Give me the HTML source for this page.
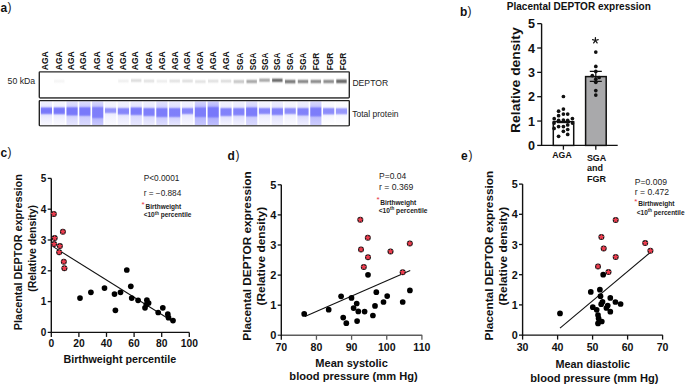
<!DOCTYPE html>
<html><head><meta charset="utf-8"><title>Figure</title>
<style>
html,body{margin:0;padding:0;background:#fff;}
body{width:685px;height:386px;overflow:hidden;font-family:"Liberation Sans", sans-serif;}
svg{display:block;font-family:"Liberation Sans", sans-serif;}
</style></head><body>
<svg width="685" height="386" viewBox="0 0 685 386">
<text transform="translate(47.60,70.20) rotate(-90)" font-size="9.2" font-weight="bold" fill="#111" text-anchor="start" textLength="18.90" lengthAdjust="spacingAndGlyphs">AGA</text>
<text transform="translate(61.70,70.20) rotate(-90)" font-size="9.2" font-weight="bold" fill="#111" text-anchor="start" textLength="18.90" lengthAdjust="spacingAndGlyphs">AGA</text>
<text transform="translate(74.00,70.20) rotate(-90)" font-size="9.2" font-weight="bold" fill="#111" text-anchor="start" textLength="18.90" lengthAdjust="spacingAndGlyphs">AGA</text>
<text transform="translate(85.80,70.20) rotate(-90)" font-size="9.2" font-weight="bold" fill="#111" text-anchor="start" textLength="18.90" lengthAdjust="spacingAndGlyphs">AGA</text>
<text transform="translate(99.50,70.20) rotate(-90)" font-size="9.2" font-weight="bold" fill="#111" text-anchor="start" textLength="18.90" lengthAdjust="spacingAndGlyphs">AGA</text>
<text transform="translate(113.10,70.20) rotate(-90)" font-size="9.2" font-weight="bold" fill="#111" text-anchor="start" textLength="18.90" lengthAdjust="spacingAndGlyphs">AGA</text>
<text transform="translate(125.70,70.20) rotate(-90)" font-size="9.2" font-weight="bold" fill="#111" text-anchor="start" textLength="18.90" lengthAdjust="spacingAndGlyphs">AGA</text>
<text transform="translate(138.40,70.20) rotate(-90)" font-size="9.2" font-weight="bold" fill="#111" text-anchor="start" textLength="18.90" lengthAdjust="spacingAndGlyphs">AGA</text>
<text transform="translate(151.80,70.20) rotate(-90)" font-size="9.2" font-weight="bold" fill="#111" text-anchor="start" textLength="18.90" lengthAdjust="spacingAndGlyphs">AGA</text>
<text transform="translate(165.00,70.20) rotate(-90)" font-size="9.2" font-weight="bold" fill="#111" text-anchor="start" textLength="18.90" lengthAdjust="spacingAndGlyphs">AGA</text>
<text transform="translate(177.80,70.20) rotate(-90)" font-size="9.2" font-weight="bold" fill="#111" text-anchor="start" textLength="18.90" lengthAdjust="spacingAndGlyphs">AGA</text>
<text transform="translate(189.50,70.20) rotate(-90)" font-size="9.2" font-weight="bold" fill="#111" text-anchor="start" textLength="18.90" lengthAdjust="spacingAndGlyphs">AGA</text>
<text transform="translate(202.70,70.20) rotate(-90)" font-size="9.2" font-weight="bold" fill="#111" text-anchor="start" textLength="18.90" lengthAdjust="spacingAndGlyphs">AGA</text>
<text transform="translate(215.50,70.20) rotate(-90)" font-size="9.2" font-weight="bold" fill="#111" text-anchor="start" textLength="18.90" lengthAdjust="spacingAndGlyphs">AGA</text>
<text transform="translate(228.90,70.20) rotate(-90)" font-size="9.2" font-weight="bold" fill="#111" text-anchor="start" textLength="18.90" lengthAdjust="spacingAndGlyphs">AGA</text>
<text transform="translate(242.80,70.20) rotate(-90)" font-size="9.2" font-weight="bold" fill="#111" text-anchor="start" textLength="17.50" lengthAdjust="spacingAndGlyphs">SGA</text>
<text transform="translate(255.90,70.20) rotate(-90)" font-size="9.2" font-weight="bold" fill="#111" text-anchor="start" textLength="17.50" lengthAdjust="spacingAndGlyphs">SGA</text>
<text transform="translate(268.10,70.20) rotate(-90)" font-size="9.2" font-weight="bold" fill="#111" text-anchor="start" textLength="17.50" lengthAdjust="spacingAndGlyphs">SGA</text>
<text transform="translate(279.90,70.20) rotate(-90)" font-size="9.2" font-weight="bold" fill="#111" text-anchor="start" textLength="17.50" lengthAdjust="spacingAndGlyphs">SGA</text>
<text transform="translate(293.30,70.20) rotate(-90)" font-size="9.2" font-weight="bold" fill="#111" text-anchor="start" textLength="17.50" lengthAdjust="spacingAndGlyphs">SGA</text>
<text transform="translate(306.30,70.20) rotate(-90)" font-size="9.2" font-weight="bold" fill="#111" text-anchor="start" textLength="17.50" lengthAdjust="spacingAndGlyphs">SGA</text>
<text transform="translate(318.60,70.20) rotate(-90)" font-size="9.2" font-weight="bold" fill="#111" text-anchor="start" textLength="17.50" lengthAdjust="spacingAndGlyphs">FGR</text>
<text transform="translate(332.60,70.20) rotate(-90)" font-size="9.2" font-weight="bold" fill="#111" text-anchor="start" textLength="17.50" lengthAdjust="spacingAndGlyphs">FGR</text>
<text transform="translate(346.10,70.20) rotate(-90)" font-size="9.2" font-weight="bold" fill="#111" text-anchor="start" textLength="17.50" lengthAdjust="spacingAndGlyphs">FGR</text>
<text x="7.60" y="83.70" font-size="8.8" font-weight="normal" fill="#222" text-anchor="start" textLength="27.60" lengthAdjust="spacingAndGlyphs" >50 kDa</text>
<text x="352.40" y="86.30" font-size="9.4" font-weight="normal" fill="#222" text-anchor="start" textLength="35.80" lengthAdjust="spacingAndGlyphs" >DEPTOR</text>
<text x="352.20" y="117.10" font-size="9.4" font-weight="normal" fill="#222" text-anchor="start" textLength="46.40" lengthAdjust="spacingAndGlyphs" >Total protein</text>
<rect x="39.3" y="71.9" width="310" height="25.8" fill="#fff" stroke="#2a2a2a" stroke-width="1.4" rx="0.6"/>
<defs>
<linearGradient id="dg2" x1="0" y1="0" x2="0" y2="1"><stop offset="0.0%" stop-color="rgb(244,244,244)" stop-opacity="0.001"/><stop offset="6.4%" stop-color="rgb(244,244,244)" stop-opacity="0.007"/><stop offset="12.8%" stop-color="rgb(244,244,244)" stop-opacity="0.030"/><stop offset="19.2%" stop-color="rgb(244,244,244)" stop-opacity="0.098"/><stop offset="25.6%" stop-color="rgb(244,244,244)" stop-opacity="0.240"/><stop offset="32.1%" stop-color="rgb(244,244,244)" stop-opacity="0.452"/><stop offset="38.5%" stop-color="rgb(244,244,244)" stop-opacity="0.676"/><stop offset="44.9%" stop-color="rgb(244,244,244)" stop-opacity="0.832"/><stop offset="51.3%" stop-color="rgb(244,244,244)" stop-opacity="0.871"/><stop offset="57.7%" stop-color="rgb(244,244,244)" stop-opacity="0.782"/><stop offset="64.1%" stop-color="rgb(244,244,244)" stop-opacity="0.591"/><stop offset="70.5%" stop-color="rgb(244,244,244)" stop-opacity="0.362"/><stop offset="76.9%" stop-color="rgb(244,244,244)" stop-opacity="0.173"/><stop offset="83.3%" stop-color="rgb(244,244,244)" stop-opacity="0.063"/><stop offset="89.7%" stop-color="rgb(244,244,244)" stop-opacity="0.017"/><stop offset="96.2%" stop-color="rgb(244,244,244)" stop-opacity="0.003"/></linearGradient>
<linearGradient id="dg7" x1="0" y1="0" x2="0" y2="1"><stop offset="0.0%" stop-color="rgb(238,238,238)" stop-opacity="0.001"/><stop offset="6.4%" stop-color="rgb(238,238,238)" stop-opacity="0.007"/><stop offset="12.8%" stop-color="rgb(238,238,238)" stop-opacity="0.030"/><stop offset="19.2%" stop-color="rgb(238,238,238)" stop-opacity="0.098"/><stop offset="25.6%" stop-color="rgb(238,238,238)" stop-opacity="0.240"/><stop offset="32.1%" stop-color="rgb(238,238,238)" stop-opacity="0.452"/><stop offset="38.5%" stop-color="rgb(238,238,238)" stop-opacity="0.676"/><stop offset="44.9%" stop-color="rgb(238,238,238)" stop-opacity="0.832"/><stop offset="51.3%" stop-color="rgb(238,238,238)" stop-opacity="0.871"/><stop offset="57.7%" stop-color="rgb(238,238,238)" stop-opacity="0.782"/><stop offset="64.1%" stop-color="rgb(238,238,238)" stop-opacity="0.591"/><stop offset="70.5%" stop-color="rgb(238,238,238)" stop-opacity="0.362"/><stop offset="76.9%" stop-color="rgb(238,238,238)" stop-opacity="0.173"/><stop offset="83.3%" stop-color="rgb(238,238,238)" stop-opacity="0.063"/><stop offset="89.7%" stop-color="rgb(238,238,238)" stop-opacity="0.017"/><stop offset="96.2%" stop-color="rgb(238,238,238)" stop-opacity="0.003"/></linearGradient>
<linearGradient id="dg8" x1="0" y1="0" x2="0" y2="1"><stop offset="0.0%" stop-color="rgb(220,220,220)" stop-opacity="0.001"/><stop offset="6.2%" stop-color="rgb(220,220,220)" stop-opacity="0.007"/><stop offset="12.5%" stop-color="rgb(220,220,220)" stop-opacity="0.030"/><stop offset="18.8%" stop-color="rgb(220,220,220)" stop-opacity="0.098"/><stop offset="25.0%" stop-color="rgb(220,220,220)" stop-opacity="0.240"/><stop offset="31.2%" stop-color="rgb(220,220,220)" stop-opacity="0.453"/><stop offset="37.5%" stop-color="rgb(220,220,220)" stop-opacity="0.679"/><stop offset="43.8%" stop-color="rgb(220,220,220)" stop-opacity="0.842"/><stop offset="50.0%" stop-color="rgb(220,220,220)" stop-opacity="0.900"/><stop offset="56.2%" stop-color="rgb(220,220,220)" stop-opacity="0.842"/><stop offset="62.5%" stop-color="rgb(220,220,220)" stop-opacity="0.679"/><stop offset="68.8%" stop-color="rgb(220,220,220)" stop-opacity="0.453"/><stop offset="75.0%" stop-color="rgb(220,220,220)" stop-opacity="0.240"/><stop offset="81.2%" stop-color="rgb(220,220,220)" stop-opacity="0.098"/><stop offset="87.5%" stop-color="rgb(220,220,220)" stop-opacity="0.030"/><stop offset="93.8%" stop-color="rgb(220,220,220)" stop-opacity="0.007"/><stop offset="100.0%" stop-color="rgb(220,220,220)" stop-opacity="0.001"/></linearGradient>
<linearGradient id="dg9" x1="0" y1="0" x2="0" y2="1"><stop offset="0.0%" stop-color="rgb(226,226,226)" stop-opacity="0.001"/><stop offset="6.2%" stop-color="rgb(226,226,226)" stop-opacity="0.007"/><stop offset="12.5%" stop-color="rgb(226,226,226)" stop-opacity="0.030"/><stop offset="18.8%" stop-color="rgb(226,226,226)" stop-opacity="0.098"/><stop offset="25.0%" stop-color="rgb(226,226,226)" stop-opacity="0.240"/><stop offset="31.2%" stop-color="rgb(226,226,226)" stop-opacity="0.453"/><stop offset="37.5%" stop-color="rgb(226,226,226)" stop-opacity="0.679"/><stop offset="43.8%" stop-color="rgb(226,226,226)" stop-opacity="0.842"/><stop offset="50.0%" stop-color="rgb(226,226,226)" stop-opacity="0.900"/><stop offset="56.2%" stop-color="rgb(226,226,226)" stop-opacity="0.842"/><stop offset="62.5%" stop-color="rgb(226,226,226)" stop-opacity="0.679"/><stop offset="68.8%" stop-color="rgb(226,226,226)" stop-opacity="0.453"/><stop offset="75.0%" stop-color="rgb(226,226,226)" stop-opacity="0.240"/><stop offset="81.2%" stop-color="rgb(226,226,226)" stop-opacity="0.098"/><stop offset="87.5%" stop-color="rgb(226,226,226)" stop-opacity="0.030"/><stop offset="93.8%" stop-color="rgb(226,226,226)" stop-opacity="0.007"/><stop offset="100.0%" stop-color="rgb(226,226,226)" stop-opacity="0.001"/></linearGradient>
<linearGradient id="dg10" x1="0" y1="0" x2="0" y2="1"><stop offset="0.0%" stop-color="rgb(236,236,236)" stop-opacity="0.001"/><stop offset="6.4%" stop-color="rgb(236,236,236)" stop-opacity="0.007"/><stop offset="12.8%" stop-color="rgb(236,236,236)" stop-opacity="0.030"/><stop offset="19.2%" stop-color="rgb(236,236,236)" stop-opacity="0.098"/><stop offset="25.6%" stop-color="rgb(236,236,236)" stop-opacity="0.240"/><stop offset="32.1%" stop-color="rgb(236,236,236)" stop-opacity="0.452"/><stop offset="38.5%" stop-color="rgb(236,236,236)" stop-opacity="0.676"/><stop offset="44.9%" stop-color="rgb(236,236,236)" stop-opacity="0.832"/><stop offset="51.3%" stop-color="rgb(236,236,236)" stop-opacity="0.871"/><stop offset="57.7%" stop-color="rgb(236,236,236)" stop-opacity="0.782"/><stop offset="64.1%" stop-color="rgb(236,236,236)" stop-opacity="0.591"/><stop offset="70.5%" stop-color="rgb(236,236,236)" stop-opacity="0.362"/><stop offset="76.9%" stop-color="rgb(236,236,236)" stop-opacity="0.173"/><stop offset="83.3%" stop-color="rgb(236,236,236)" stop-opacity="0.063"/><stop offset="89.7%" stop-color="rgb(236,236,236)" stop-opacity="0.017"/><stop offset="96.2%" stop-color="rgb(236,236,236)" stop-opacity="0.003"/></linearGradient>
<linearGradient id="dg11" x1="0" y1="0" x2="0" y2="1"><stop offset="0.0%" stop-color="rgb(226,226,226)" stop-opacity="0.001"/><stop offset="6.2%" stop-color="rgb(226,226,226)" stop-opacity="0.007"/><stop offset="12.5%" stop-color="rgb(226,226,226)" stop-opacity="0.030"/><stop offset="18.8%" stop-color="rgb(226,226,226)" stop-opacity="0.098"/><stop offset="25.0%" stop-color="rgb(226,226,226)" stop-opacity="0.240"/><stop offset="31.2%" stop-color="rgb(226,226,226)" stop-opacity="0.453"/><stop offset="37.5%" stop-color="rgb(226,226,226)" stop-opacity="0.679"/><stop offset="43.8%" stop-color="rgb(226,226,226)" stop-opacity="0.842"/><stop offset="50.0%" stop-color="rgb(226,226,226)" stop-opacity="0.900"/><stop offset="56.2%" stop-color="rgb(226,226,226)" stop-opacity="0.842"/><stop offset="62.5%" stop-color="rgb(226,226,226)" stop-opacity="0.679"/><stop offset="68.8%" stop-color="rgb(226,226,226)" stop-opacity="0.453"/><stop offset="75.0%" stop-color="rgb(226,226,226)" stop-opacity="0.240"/><stop offset="81.2%" stop-color="rgb(226,226,226)" stop-opacity="0.098"/><stop offset="87.5%" stop-color="rgb(226,226,226)" stop-opacity="0.030"/><stop offset="93.8%" stop-color="rgb(226,226,226)" stop-opacity="0.007"/><stop offset="100.0%" stop-color="rgb(226,226,226)" stop-opacity="0.001"/></linearGradient>
<linearGradient id="dg12" x1="0" y1="0" x2="0" y2="1"><stop offset="0.0%" stop-color="rgb(222,222,222)" stop-opacity="0.001"/><stop offset="6.2%" stop-color="rgb(222,222,222)" stop-opacity="0.007"/><stop offset="12.5%" stop-color="rgb(222,222,222)" stop-opacity="0.030"/><stop offset="18.8%" stop-color="rgb(222,222,222)" stop-opacity="0.098"/><stop offset="25.0%" stop-color="rgb(222,222,222)" stop-opacity="0.240"/><stop offset="31.2%" stop-color="rgb(222,222,222)" stop-opacity="0.453"/><stop offset="37.5%" stop-color="rgb(222,222,222)" stop-opacity="0.679"/><stop offset="43.8%" stop-color="rgb(222,222,222)" stop-opacity="0.842"/><stop offset="50.0%" stop-color="rgb(222,222,222)" stop-opacity="0.900"/><stop offset="56.2%" stop-color="rgb(222,222,222)" stop-opacity="0.842"/><stop offset="62.5%" stop-color="rgb(222,222,222)" stop-opacity="0.679"/><stop offset="68.8%" stop-color="rgb(222,222,222)" stop-opacity="0.453"/><stop offset="75.0%" stop-color="rgb(222,222,222)" stop-opacity="0.240"/><stop offset="81.2%" stop-color="rgb(222,222,222)" stop-opacity="0.098"/><stop offset="87.5%" stop-color="rgb(222,222,222)" stop-opacity="0.030"/><stop offset="93.8%" stop-color="rgb(222,222,222)" stop-opacity="0.007"/><stop offset="100.0%" stop-color="rgb(222,222,222)" stop-opacity="0.001"/></linearGradient>
<linearGradient id="dg13" x1="0" y1="0" x2="0" y2="1"><stop offset="0.0%" stop-color="rgb(226,226,226)" stop-opacity="0.001"/><stop offset="6.2%" stop-color="rgb(226,226,226)" stop-opacity="0.007"/><stop offset="12.5%" stop-color="rgb(226,226,226)" stop-opacity="0.030"/><stop offset="18.8%" stop-color="rgb(226,226,226)" stop-opacity="0.098"/><stop offset="25.0%" stop-color="rgb(226,226,226)" stop-opacity="0.240"/><stop offset="31.2%" stop-color="rgb(226,226,226)" stop-opacity="0.453"/><stop offset="37.5%" stop-color="rgb(226,226,226)" stop-opacity="0.679"/><stop offset="43.8%" stop-color="rgb(226,226,226)" stop-opacity="0.842"/><stop offset="50.0%" stop-color="rgb(226,226,226)" stop-opacity="0.900"/><stop offset="56.2%" stop-color="rgb(226,226,226)" stop-opacity="0.842"/><stop offset="62.5%" stop-color="rgb(226,226,226)" stop-opacity="0.679"/><stop offset="68.8%" stop-color="rgb(226,226,226)" stop-opacity="0.453"/><stop offset="75.0%" stop-color="rgb(226,226,226)" stop-opacity="0.240"/><stop offset="81.2%" stop-color="rgb(226,226,226)" stop-opacity="0.098"/><stop offset="87.5%" stop-color="rgb(226,226,226)" stop-opacity="0.030"/><stop offset="93.8%" stop-color="rgb(226,226,226)" stop-opacity="0.007"/><stop offset="100.0%" stop-color="rgb(226,226,226)" stop-opacity="0.001"/></linearGradient>
<linearGradient id="dg14" x1="0" y1="0" x2="0" y2="1"><stop offset="0.0%" stop-color="rgb(224,224,224)" stop-opacity="0.001"/><stop offset="6.2%" stop-color="rgb(224,224,224)" stop-opacity="0.007"/><stop offset="12.5%" stop-color="rgb(224,224,224)" stop-opacity="0.030"/><stop offset="18.8%" stop-color="rgb(224,224,224)" stop-opacity="0.098"/><stop offset="25.0%" stop-color="rgb(224,224,224)" stop-opacity="0.240"/><stop offset="31.2%" stop-color="rgb(224,224,224)" stop-opacity="0.453"/><stop offset="37.5%" stop-color="rgb(224,224,224)" stop-opacity="0.679"/><stop offset="43.8%" stop-color="rgb(224,224,224)" stop-opacity="0.842"/><stop offset="50.0%" stop-color="rgb(224,224,224)" stop-opacity="0.900"/><stop offset="56.2%" stop-color="rgb(224,224,224)" stop-opacity="0.842"/><stop offset="62.5%" stop-color="rgb(224,224,224)" stop-opacity="0.679"/><stop offset="68.8%" stop-color="rgb(224,224,224)" stop-opacity="0.453"/><stop offset="75.0%" stop-color="rgb(224,224,224)" stop-opacity="0.240"/><stop offset="81.2%" stop-color="rgb(224,224,224)" stop-opacity="0.098"/><stop offset="87.5%" stop-color="rgb(224,224,224)" stop-opacity="0.030"/><stop offset="93.8%" stop-color="rgb(224,224,224)" stop-opacity="0.007"/><stop offset="100.0%" stop-color="rgb(224,224,224)" stop-opacity="0.001"/></linearGradient>
<linearGradient id="dg15" x1="0" y1="0" x2="0" y2="1"><stop offset="0.0%" stop-color="rgb(220,220,220)" stop-opacity="0.001"/><stop offset="6.2%" stop-color="rgb(220,220,220)" stop-opacity="0.007"/><stop offset="12.5%" stop-color="rgb(220,220,220)" stop-opacity="0.030"/><stop offset="18.8%" stop-color="rgb(220,220,220)" stop-opacity="0.098"/><stop offset="25.0%" stop-color="rgb(220,220,220)" stop-opacity="0.240"/><stop offset="31.2%" stop-color="rgb(220,220,220)" stop-opacity="0.453"/><stop offset="37.5%" stop-color="rgb(220,220,220)" stop-opacity="0.679"/><stop offset="43.8%" stop-color="rgb(220,220,220)" stop-opacity="0.842"/><stop offset="50.0%" stop-color="rgb(220,220,220)" stop-opacity="0.900"/><stop offset="56.2%" stop-color="rgb(220,220,220)" stop-opacity="0.842"/><stop offset="62.5%" stop-color="rgb(220,220,220)" stop-opacity="0.679"/><stop offset="68.8%" stop-color="rgb(220,220,220)" stop-opacity="0.453"/><stop offset="75.0%" stop-color="rgb(220,220,220)" stop-opacity="0.240"/><stop offset="81.2%" stop-color="rgb(220,220,220)" stop-opacity="0.098"/><stop offset="87.5%" stop-color="rgb(220,220,220)" stop-opacity="0.030"/><stop offset="93.8%" stop-color="rgb(220,220,220)" stop-opacity="0.007"/><stop offset="100.0%" stop-color="rgb(220,220,220)" stop-opacity="0.001"/></linearGradient>
<linearGradient id="dg16" x1="0" y1="0" x2="0" y2="1"><stop offset="0.0%" stop-color="rgb(200,200,200)" stop-opacity="0.001"/><stop offset="6.0%" stop-color="rgb(200,200,200)" stop-opacity="0.007"/><stop offset="11.9%" stop-color="rgb(200,200,200)" stop-opacity="0.030"/><stop offset="17.9%" stop-color="rgb(200,200,200)" stop-opacity="0.098"/><stop offset="23.8%" stop-color="rgb(200,200,200)" stop-opacity="0.240"/><stop offset="29.8%" stop-color="rgb(200,200,200)" stop-opacity="0.453"/><stop offset="35.7%" stop-color="rgb(200,200,200)" stop-opacity="0.681"/><stop offset="41.7%" stop-color="rgb(200,200,200)" stop-opacity="0.852"/><stop offset="47.6%" stop-color="rgb(200,200,200)" stop-opacity="0.933"/><stop offset="53.6%" stop-color="rgb(200,200,200)" stop-opacity="0.924"/><stop offset="59.5%" stop-color="rgb(200,200,200)" stop-opacity="0.824"/><stop offset="65.5%" stop-color="rgb(200,200,200)" stop-opacity="0.638"/><stop offset="71.4%" stop-color="rgb(200,200,200)" stop-opacity="0.407"/><stop offset="77.4%" stop-color="rgb(200,200,200)" stop-opacity="0.205"/><stop offset="83.3%" stop-color="rgb(200,200,200)" stop-opacity="0.079"/><stop offset="89.3%" stop-color="rgb(200,200,200)" stop-opacity="0.023"/><stop offset="95.2%" stop-color="rgb(200,200,200)" stop-opacity="0.005"/></linearGradient>
<linearGradient id="dg17" x1="0" y1="0" x2="0" y2="1"><stop offset="0.0%" stop-color="rgb(165,165,165)" stop-opacity="0.001"/><stop offset="6.0%" stop-color="rgb(165,165,165)" stop-opacity="0.007"/><stop offset="11.9%" stop-color="rgb(165,165,165)" stop-opacity="0.030"/><stop offset="17.9%" stop-color="rgb(165,165,165)" stop-opacity="0.098"/><stop offset="23.8%" stop-color="rgb(165,165,165)" stop-opacity="0.240"/><stop offset="29.8%" stop-color="rgb(165,165,165)" stop-opacity="0.453"/><stop offset="35.7%" stop-color="rgb(165,165,165)" stop-opacity="0.681"/><stop offset="41.7%" stop-color="rgb(165,165,165)" stop-opacity="0.852"/><stop offset="47.6%" stop-color="rgb(165,165,165)" stop-opacity="0.933"/><stop offset="53.6%" stop-color="rgb(165,165,165)" stop-opacity="0.924"/><stop offset="59.5%" stop-color="rgb(165,165,165)" stop-opacity="0.824"/><stop offset="65.5%" stop-color="rgb(165,165,165)" stop-opacity="0.638"/><stop offset="71.4%" stop-color="rgb(165,165,165)" stop-opacity="0.407"/><stop offset="77.4%" stop-color="rgb(165,165,165)" stop-opacity="0.205"/><stop offset="83.3%" stop-color="rgb(165,165,165)" stop-opacity="0.079"/><stop offset="89.3%" stop-color="rgb(165,165,165)" stop-opacity="0.023"/><stop offset="95.2%" stop-color="rgb(165,165,165)" stop-opacity="0.005"/></linearGradient>
<linearGradient id="dg18" x1="0" y1="0" x2="0" y2="1"><stop offset="0.0%" stop-color="rgb(168,168,168)" stop-opacity="0.001"/><stop offset="6.0%" stop-color="rgb(168,168,168)" stop-opacity="0.007"/><stop offset="11.9%" stop-color="rgb(168,168,168)" stop-opacity="0.030"/><stop offset="17.9%" stop-color="rgb(168,168,168)" stop-opacity="0.098"/><stop offset="23.8%" stop-color="rgb(168,168,168)" stop-opacity="0.240"/><stop offset="29.8%" stop-color="rgb(168,168,168)" stop-opacity="0.453"/><stop offset="35.7%" stop-color="rgb(168,168,168)" stop-opacity="0.681"/><stop offset="41.7%" stop-color="rgb(168,168,168)" stop-opacity="0.852"/><stop offset="47.6%" stop-color="rgb(168,168,168)" stop-opacity="0.933"/><stop offset="53.6%" stop-color="rgb(168,168,168)" stop-opacity="0.924"/><stop offset="59.5%" stop-color="rgb(168,168,168)" stop-opacity="0.824"/><stop offset="65.5%" stop-color="rgb(168,168,168)" stop-opacity="0.638"/><stop offset="71.4%" stop-color="rgb(168,168,168)" stop-opacity="0.407"/><stop offset="77.4%" stop-color="rgb(168,168,168)" stop-opacity="0.205"/><stop offset="83.3%" stop-color="rgb(168,168,168)" stop-opacity="0.079"/><stop offset="89.3%" stop-color="rgb(168,168,168)" stop-opacity="0.023"/><stop offset="95.2%" stop-color="rgb(168,168,168)" stop-opacity="0.005"/></linearGradient>
<linearGradient id="dg19" x1="0" y1="0" x2="0" y2="1"><stop offset="0.0%" stop-color="rgb(100,100,100)" stop-opacity="0.001"/><stop offset="6.0%" stop-color="rgb(100,100,100)" stop-opacity="0.007"/><stop offset="11.9%" stop-color="rgb(100,100,100)" stop-opacity="0.030"/><stop offset="17.9%" stop-color="rgb(100,100,100)" stop-opacity="0.098"/><stop offset="23.8%" stop-color="rgb(100,100,100)" stop-opacity="0.240"/><stop offset="29.8%" stop-color="rgb(100,100,100)" stop-opacity="0.453"/><stop offset="35.7%" stop-color="rgb(100,100,100)" stop-opacity="0.681"/><stop offset="41.7%" stop-color="rgb(100,100,100)" stop-opacity="0.852"/><stop offset="47.6%" stop-color="rgb(100,100,100)" stop-opacity="0.933"/><stop offset="53.6%" stop-color="rgb(100,100,100)" stop-opacity="0.924"/><stop offset="59.5%" stop-color="rgb(100,100,100)" stop-opacity="0.824"/><stop offset="65.5%" stop-color="rgb(100,100,100)" stop-opacity="0.638"/><stop offset="71.4%" stop-color="rgb(100,100,100)" stop-opacity="0.407"/><stop offset="77.4%" stop-color="rgb(100,100,100)" stop-opacity="0.205"/><stop offset="83.3%" stop-color="rgb(100,100,100)" stop-opacity="0.079"/><stop offset="89.3%" stop-color="rgb(100,100,100)" stop-opacity="0.023"/><stop offset="95.2%" stop-color="rgb(100,100,100)" stop-opacity="0.005"/></linearGradient>
<linearGradient id="dg20" x1="0" y1="0" x2="0" y2="1"><stop offset="0.0%" stop-color="rgb(120,120,120)" stop-opacity="0.001"/><stop offset="5.8%" stop-color="rgb(120,120,120)" stop-opacity="0.007"/><stop offset="11.6%" stop-color="rgb(120,120,120)" stop-opacity="0.030"/><stop offset="17.4%" stop-color="rgb(120,120,120)" stop-opacity="0.098"/><stop offset="23.3%" stop-color="rgb(120,120,120)" stop-opacity="0.240"/><stop offset="29.1%" stop-color="rgb(120,120,120)" stop-opacity="0.453"/><stop offset="34.9%" stop-color="rgb(120,120,120)" stop-opacity="0.681"/><stop offset="40.7%" stop-color="rgb(120,120,120)" stop-opacity="0.854"/><stop offset="46.5%" stop-color="rgb(120,120,120)" stop-opacity="0.941"/><stop offset="52.3%" stop-color="rgb(120,120,120)" stop-opacity="0.948"/><stop offset="58.1%" stop-color="rgb(120,120,120)" stop-opacity="0.878"/><stop offset="64.0%" stop-color="rgb(120,120,120)" stop-opacity="0.721"/><stop offset="69.8%" stop-color="rgb(120,120,120)" stop-opacity="0.500"/><stop offset="75.6%" stop-color="rgb(120,120,120)" stop-opacity="0.278"/><stop offset="81.4%" stop-color="rgb(120,120,120)" stop-opacity="0.120"/><stop offset="87.2%" stop-color="rgb(120,120,120)" stop-opacity="0.039"/><stop offset="93.0%" stop-color="rgb(120,120,120)" stop-opacity="0.009"/><stop offset="98.8%" stop-color="rgb(120,120,120)" stop-opacity="0.002"/></linearGradient>
<linearGradient id="dg21" x1="0" y1="0" x2="0" y2="1"><stop offset="0.0%" stop-color="rgb(132,132,132)" stop-opacity="0.001"/><stop offset="6.0%" stop-color="rgb(132,132,132)" stop-opacity="0.007"/><stop offset="11.9%" stop-color="rgb(132,132,132)" stop-opacity="0.030"/><stop offset="17.9%" stop-color="rgb(132,132,132)" stop-opacity="0.098"/><stop offset="23.8%" stop-color="rgb(132,132,132)" stop-opacity="0.240"/><stop offset="29.8%" stop-color="rgb(132,132,132)" stop-opacity="0.453"/><stop offset="35.7%" stop-color="rgb(132,132,132)" stop-opacity="0.681"/><stop offset="41.7%" stop-color="rgb(132,132,132)" stop-opacity="0.852"/><stop offset="47.6%" stop-color="rgb(132,132,132)" stop-opacity="0.933"/><stop offset="53.6%" stop-color="rgb(132,132,132)" stop-opacity="0.924"/><stop offset="59.5%" stop-color="rgb(132,132,132)" stop-opacity="0.824"/><stop offset="65.5%" stop-color="rgb(132,132,132)" stop-opacity="0.638"/><stop offset="71.4%" stop-color="rgb(132,132,132)" stop-opacity="0.407"/><stop offset="77.4%" stop-color="rgb(132,132,132)" stop-opacity="0.205"/><stop offset="83.3%" stop-color="rgb(132,132,132)" stop-opacity="0.079"/><stop offset="89.3%" stop-color="rgb(132,132,132)" stop-opacity="0.023"/><stop offset="95.2%" stop-color="rgb(132,132,132)" stop-opacity="0.005"/></linearGradient>
<linearGradient id="dg22" x1="0" y1="0" x2="0" y2="1"><stop offset="0.0%" stop-color="rgb(136,136,136)" stop-opacity="0.001"/><stop offset="6.0%" stop-color="rgb(136,136,136)" stop-opacity="0.007"/><stop offset="11.9%" stop-color="rgb(136,136,136)" stop-opacity="0.030"/><stop offset="17.9%" stop-color="rgb(136,136,136)" stop-opacity="0.098"/><stop offset="23.8%" stop-color="rgb(136,136,136)" stop-opacity="0.240"/><stop offset="29.8%" stop-color="rgb(136,136,136)" stop-opacity="0.453"/><stop offset="35.7%" stop-color="rgb(136,136,136)" stop-opacity="0.681"/><stop offset="41.7%" stop-color="rgb(136,136,136)" stop-opacity="0.852"/><stop offset="47.6%" stop-color="rgb(136,136,136)" stop-opacity="0.933"/><stop offset="53.6%" stop-color="rgb(136,136,136)" stop-opacity="0.924"/><stop offset="59.5%" stop-color="rgb(136,136,136)" stop-opacity="0.824"/><stop offset="65.5%" stop-color="rgb(136,136,136)" stop-opacity="0.638"/><stop offset="71.4%" stop-color="rgb(136,136,136)" stop-opacity="0.407"/><stop offset="77.4%" stop-color="rgb(136,136,136)" stop-opacity="0.205"/><stop offset="83.3%" stop-color="rgb(136,136,136)" stop-opacity="0.079"/><stop offset="89.3%" stop-color="rgb(136,136,136)" stop-opacity="0.023"/><stop offset="95.2%" stop-color="rgb(136,136,136)" stop-opacity="0.005"/></linearGradient>
<linearGradient id="dg23" x1="0" y1="0" x2="0" y2="1"><stop offset="0.0%" stop-color="rgb(136,136,136)" stop-opacity="0.001"/><stop offset="6.0%" stop-color="rgb(136,136,136)" stop-opacity="0.007"/><stop offset="11.9%" stop-color="rgb(136,136,136)" stop-opacity="0.030"/><stop offset="17.9%" stop-color="rgb(136,136,136)" stop-opacity="0.098"/><stop offset="23.8%" stop-color="rgb(136,136,136)" stop-opacity="0.240"/><stop offset="29.8%" stop-color="rgb(136,136,136)" stop-opacity="0.453"/><stop offset="35.7%" stop-color="rgb(136,136,136)" stop-opacity="0.681"/><stop offset="41.7%" stop-color="rgb(136,136,136)" stop-opacity="0.852"/><stop offset="47.6%" stop-color="rgb(136,136,136)" stop-opacity="0.933"/><stop offset="53.6%" stop-color="rgb(136,136,136)" stop-opacity="0.924"/><stop offset="59.5%" stop-color="rgb(136,136,136)" stop-opacity="0.824"/><stop offset="65.5%" stop-color="rgb(136,136,136)" stop-opacity="0.638"/><stop offset="71.4%" stop-color="rgb(136,136,136)" stop-opacity="0.407"/><stop offset="77.4%" stop-color="rgb(136,136,136)" stop-opacity="0.205"/><stop offset="83.3%" stop-color="rgb(136,136,136)" stop-opacity="0.079"/><stop offset="89.3%" stop-color="rgb(136,136,136)" stop-opacity="0.023"/><stop offset="95.2%" stop-color="rgb(136,136,136)" stop-opacity="0.005"/></linearGradient>
<linearGradient id="dg24" x1="0" y1="0" x2="0" y2="1"><stop offset="0.0%" stop-color="rgb(102,102,102)" stop-opacity="0.001"/><stop offset="5.7%" stop-color="rgb(102,102,102)" stop-opacity="0.007"/><stop offset="11.4%" stop-color="rgb(102,102,102)" stop-opacity="0.030"/><stop offset="17.0%" stop-color="rgb(102,102,102)" stop-opacity="0.098"/><stop offset="22.7%" stop-color="rgb(102,102,102)" stop-opacity="0.240"/><stop offset="28.4%" stop-color="rgb(102,102,102)" stop-opacity="0.453"/><stop offset="34.1%" stop-color="rgb(102,102,102)" stop-opacity="0.681"/><stop offset="39.8%" stop-color="rgb(102,102,102)" stop-opacity="0.854"/><stop offset="45.5%" stop-color="rgb(102,102,102)" stop-opacity="0.945"/><stop offset="51.1%" stop-color="rgb(102,102,102)" stop-opacity="0.965"/><stop offset="56.8%" stop-color="rgb(102,102,102)" stop-opacity="0.919"/><stop offset="62.5%" stop-color="rgb(102,102,102)" stop-opacity="0.795"/><stop offset="68.2%" stop-color="rgb(102,102,102)" stop-opacity="0.593"/><stop offset="73.9%" stop-color="rgb(102,102,102)" stop-opacity="0.362"/><stop offset="79.5%" stop-color="rgb(102,102,102)" stop-opacity="0.173"/><stop offset="85.2%" stop-color="rgb(102,102,102)" stop-opacity="0.063"/><stop offset="90.9%" stop-color="rgb(102,102,102)" stop-opacity="0.017"/><stop offset="96.6%" stop-color="rgb(102,102,102)" stop-opacity="0.003"/></linearGradient>
</defs>
<rect x="54.03" y="77.30" width="10.40" height="7.80" fill="url(#dg2)"/>
<rect x="118.18" y="77.10" width="10.40" height="7.80" fill="url(#dg7)"/>
<rect x="131.01" y="76.50" width="10.40" height="8.00" fill="url(#dg8)"/>
<rect x="143.84" y="77.00" width="10.40" height="8.00" fill="url(#dg9)"/>
<rect x="156.67" y="77.30" width="10.40" height="7.80" fill="url(#dg10)"/>
<rect x="169.50" y="77.00" width="10.40" height="8.00" fill="url(#dg11)"/>
<rect x="182.33" y="77.00" width="10.40" height="8.00" fill="url(#dg12)"/>
<rect x="195.16" y="77.60" width="10.40" height="8.00" fill="url(#dg13)"/>
<rect x="207.99" y="77.10" width="10.40" height="8.00" fill="url(#dg14)"/>
<rect x="220.82" y="77.10" width="10.40" height="8.00" fill="url(#dg15)"/>
<rect x="233.65" y="77.40" width="10.40" height="8.40" fill="url(#dg16)"/>
<rect x="246.48" y="77.30" width="10.40" height="8.40" fill="url(#dg17)"/>
<rect x="259.31" y="76.00" width="10.40" height="8.40" fill="url(#dg18)"/>
<rect x="272.14" y="76.10" width="10.40" height="8.40" fill="url(#dg19)"/>
<rect x="284.97" y="77.30" width="10.40" height="8.60" fill="url(#dg20)"/>
<rect x="297.80" y="77.30" width="10.40" height="8.40" fill="url(#dg21)"/>
<rect x="310.63" y="77.30" width="10.40" height="8.40" fill="url(#dg22)"/>
<rect x="323.46" y="77.30" width="10.40" height="8.40" fill="url(#dg23)"/>
<rect x="336.29" y="76.90" width="10.40" height="8.80" fill="url(#dg24)"/>
<rect x="39.3" y="100.65" width="310" height="25.0" fill="#fff"/>
<defs>
<linearGradient id="pg0" x1="0" y1="0" x2="0" y2="1"><stop offset="0.0%" stop-color="rgb(120, 120, 250)" stop-opacity="0.111"/><stop offset="4.2%" stop-color="rgb(120, 120, 250)" stop-opacity="0.120"/><stop offset="8.4%" stop-color="rgb(120, 120, 250)" stop-opacity="0.132"/><stop offset="12.7%" stop-color="rgb(120, 120, 250)" stop-opacity="0.143"/><stop offset="16.9%" stop-color="rgb(120, 120, 250)" stop-opacity="0.156"/><stop offset="21.1%" stop-color="rgb(120, 120, 250)" stop-opacity="0.214"/><stop offset="25.3%" stop-color="rgb(120, 120, 250)" stop-opacity="0.539"/><stop offset="29.5%" stop-color="rgb(120, 120, 250)" stop-opacity="0.919"/><stop offset="33.8%" stop-color="rgb(120, 120, 250)" stop-opacity="0.997"/><stop offset="38.0%" stop-color="rgb(120, 120, 250)" stop-opacity="1.000"/><stop offset="42.2%" stop-color="rgb(120, 120, 250)" stop-opacity="1.000"/><stop offset="46.4%" stop-color="rgb(120, 120, 250)" stop-opacity="0.994"/><stop offset="50.6%" stop-color="rgb(120, 120, 250)" stop-opacity="0.876"/><stop offset="54.9%" stop-color="rgb(120, 120, 250)" stop-opacity="0.472"/><stop offset="59.1%" stop-color="rgb(120, 120, 250)" stop-opacity="0.218"/><stop offset="63.3%" stop-color="rgb(120, 120, 250)" stop-opacity="0.174"/><stop offset="67.5%" stop-color="rgb(120, 120, 250)" stop-opacity="0.152"/><stop offset="71.7%" stop-color="rgb(120, 120, 250)" stop-opacity="0.134"/><stop offset="75.9%" stop-color="rgb(120, 120, 250)" stop-opacity="0.120"/><stop offset="80.2%" stop-color="rgb(120, 120, 250)" stop-opacity="0.108"/><stop offset="84.4%" stop-color="rgb(120, 120, 250)" stop-opacity="0.096"/><stop offset="88.6%" stop-color="rgb(120, 120, 250)" stop-opacity="0.083"/><stop offset="92.8%" stop-color="rgb(120, 120, 250)" stop-opacity="0.071"/><stop offset="97.0%" stop-color="rgb(120, 120, 250)" stop-opacity="0.059"/></linearGradient>
<linearGradient id="pg1" x1="0" y1="0" x2="0" y2="1"><stop offset="0.0%" stop-color="rgb(120, 120, 250)" stop-opacity="0.074"/><stop offset="4.2%" stop-color="rgb(120, 120, 250)" stop-opacity="0.080"/><stop offset="8.4%" stop-color="rgb(120, 120, 250)" stop-opacity="0.088"/><stop offset="12.7%" stop-color="rgb(120, 120, 250)" stop-opacity="0.096"/><stop offset="16.9%" stop-color="rgb(120, 120, 250)" stop-opacity="0.104"/><stop offset="21.1%" stop-color="rgb(120, 120, 250)" stop-opacity="0.162"/><stop offset="25.3%" stop-color="rgb(120, 120, 250)" stop-opacity="0.507"/><stop offset="29.5%" stop-color="rgb(120, 120, 250)" stop-opacity="0.913"/><stop offset="33.8%" stop-color="rgb(120, 120, 250)" stop-opacity="0.997"/><stop offset="38.0%" stop-color="rgb(120, 120, 250)" stop-opacity="1.000"/><stop offset="42.2%" stop-color="rgb(120, 120, 250)" stop-opacity="1.000"/><stop offset="46.4%" stop-color="rgb(120, 120, 250)" stop-opacity="0.997"/><stop offset="50.6%" stop-color="rgb(120, 120, 250)" stop-opacity="0.919"/><stop offset="54.9%" stop-color="rgb(120, 120, 250)" stop-opacity="0.538"/><stop offset="59.1%" stop-color="rgb(120, 120, 250)" stop-opacity="0.209"/><stop offset="63.3%" stop-color="rgb(120, 120, 250)" stop-opacity="0.146"/><stop offset="67.5%" stop-color="rgb(120, 120, 250)" stop-opacity="0.128"/><stop offset="71.7%" stop-color="rgb(120, 120, 250)" stop-opacity="0.112"/><stop offset="75.9%" stop-color="rgb(120, 120, 250)" stop-opacity="0.100"/><stop offset="80.2%" stop-color="rgb(120, 120, 250)" stop-opacity="0.089"/><stop offset="84.4%" stop-color="rgb(120, 120, 250)" stop-opacity="0.079"/><stop offset="88.6%" stop-color="rgb(120, 120, 250)" stop-opacity="0.068"/><stop offset="92.8%" stop-color="rgb(120, 120, 250)" stop-opacity="0.058"/><stop offset="97.0%" stop-color="rgb(120, 120, 250)" stop-opacity="0.048"/></linearGradient>
<linearGradient id="pg2" x1="0" y1="0" x2="0" y2="1"><stop offset="0.0%" stop-color="rgb(120, 120, 250)" stop-opacity="0.217"/><stop offset="4.2%" stop-color="rgb(120, 120, 250)" stop-opacity="0.234"/><stop offset="8.4%" stop-color="rgb(120, 120, 250)" stop-opacity="0.257"/><stop offset="12.7%" stop-color="rgb(120, 120, 250)" stop-opacity="0.281"/><stop offset="16.9%" stop-color="rgb(120, 120, 250)" stop-opacity="0.307"/><stop offset="21.1%" stop-color="rgb(120, 120, 250)" stop-opacity="0.392"/><stop offset="25.3%" stop-color="rgb(120, 120, 250)" stop-opacity="0.707"/><stop offset="29.5%" stop-color="rgb(120, 120, 250)" stop-opacity="0.962"/><stop offset="33.8%" stop-color="rgb(120, 120, 250)" stop-opacity="0.999"/><stop offset="38.0%" stop-color="rgb(120, 120, 250)" stop-opacity="1.000"/><stop offset="42.2%" stop-color="rgb(120, 120, 250)" stop-opacity="1.000"/><stop offset="46.4%" stop-color="rgb(120, 120, 250)" stop-opacity="1.000"/><stop offset="50.6%" stop-color="rgb(120, 120, 250)" stop-opacity="0.999"/><stop offset="54.9%" stop-color="rgb(120, 120, 250)" stop-opacity="0.963"/><stop offset="59.1%" stop-color="rgb(120, 120, 250)" stop-opacity="0.708"/><stop offset="63.3%" stop-color="rgb(120, 120, 250)" stop-opacity="0.396"/><stop offset="67.5%" stop-color="rgb(120, 120, 250)" stop-opacity="0.314"/><stop offset="71.7%" stop-color="rgb(120, 120, 250)" stop-opacity="0.291"/><stop offset="75.9%" stop-color="rgb(120, 120, 250)" stop-opacity="0.270"/><stop offset="80.2%" stop-color="rgb(120, 120, 250)" stop-opacity="0.253"/><stop offset="84.4%" stop-color="rgb(120, 120, 250)" stop-opacity="0.237"/><stop offset="88.6%" stop-color="rgb(120, 120, 250)" stop-opacity="0.222"/><stop offset="92.8%" stop-color="rgb(120, 120, 250)" stop-opacity="0.206"/><stop offset="97.0%" stop-color="rgb(120, 120, 250)" stop-opacity="0.192"/></linearGradient>
<linearGradient id="pg3" x1="0" y1="0" x2="0" y2="1"><stop offset="0.0%" stop-color="rgb(120, 120, 250)" stop-opacity="0.248"/><stop offset="4.2%" stop-color="rgb(120, 120, 250)" stop-opacity="0.268"/><stop offset="8.4%" stop-color="rgb(120, 120, 250)" stop-opacity="0.294"/><stop offset="12.7%" stop-color="rgb(120, 120, 250)" stop-opacity="0.321"/><stop offset="16.9%" stop-color="rgb(120, 120, 250)" stop-opacity="0.350"/><stop offset="21.1%" stop-color="rgb(120, 120, 250)" stop-opacity="0.434"/><stop offset="25.3%" stop-color="rgb(120, 120, 250)" stop-opacity="0.728"/><stop offset="29.5%" stop-color="rgb(120, 120, 250)" stop-opacity="0.965"/><stop offset="33.8%" stop-color="rgb(120, 120, 250)" stop-opacity="0.999"/><stop offset="38.0%" stop-color="rgb(120, 120, 250)" stop-opacity="1.000"/><stop offset="42.2%" stop-color="rgb(120, 120, 250)" stop-opacity="1.000"/><stop offset="46.4%" stop-color="rgb(120, 120, 250)" stop-opacity="1.000"/><stop offset="50.6%" stop-color="rgb(120, 120, 250)" stop-opacity="1.000"/><stop offset="54.9%" stop-color="rgb(120, 120, 250)" stop-opacity="0.991"/><stop offset="59.1%" stop-color="rgb(120, 120, 250)" stop-opacity="0.857"/><stop offset="63.3%" stop-color="rgb(120, 120, 250)" stop-opacity="0.533"/><stop offset="67.5%" stop-color="rgb(120, 120, 250)" stop-opacity="0.387"/><stop offset="71.7%" stop-color="rgb(120, 120, 250)" stop-opacity="0.363"/><stop offset="75.9%" stop-color="rgb(120, 120, 250)" stop-opacity="0.348"/><stop offset="80.2%" stop-color="rgb(120, 120, 250)" stop-opacity="0.335"/><stop offset="84.4%" stop-color="rgb(120, 120, 250)" stop-opacity="0.323"/><stop offset="88.6%" stop-color="rgb(120, 120, 250)" stop-opacity="0.311"/><stop offset="92.8%" stop-color="rgb(120, 120, 250)" stop-opacity="0.300"/><stop offset="97.0%" stop-color="rgb(120, 120, 250)" stop-opacity="0.289"/></linearGradient>
<linearGradient id="pg4" x1="0" y1="0" x2="0" y2="1"><stop offset="0.0%" stop-color="rgb(120, 120, 250)" stop-opacity="0.279"/><stop offset="4.2%" stop-color="rgb(120, 120, 250)" stop-opacity="0.302"/><stop offset="8.4%" stop-color="rgb(120, 120, 250)" stop-opacity="0.333"/><stop offset="12.7%" stop-color="rgb(120, 120, 250)" stop-opacity="0.365"/><stop offset="16.9%" stop-color="rgb(120, 120, 250)" stop-opacity="0.400"/><stop offset="21.1%" stop-color="rgb(120, 120, 250)" stop-opacity="0.505"/><stop offset="25.3%" stop-color="rgb(120, 120, 250)" stop-opacity="0.778"/><stop offset="29.5%" stop-color="rgb(120, 120, 250)" stop-opacity="0.934"/><stop offset="33.8%" stop-color="rgb(120, 120, 250)" stop-opacity="0.950"/><stop offset="38.0%" stop-color="rgb(120, 120, 250)" stop-opacity="0.950"/><stop offset="42.2%" stop-color="rgb(120, 120, 250)" stop-opacity="0.950"/><stop offset="46.4%" stop-color="rgb(120, 120, 250)" stop-opacity="0.950"/><stop offset="50.6%" stop-color="rgb(120, 120, 250)" stop-opacity="0.950"/><stop offset="54.9%" stop-color="rgb(120, 120, 250)" stop-opacity="0.950"/><stop offset="59.1%" stop-color="rgb(120, 120, 250)" stop-opacity="0.950"/><stop offset="63.3%" stop-color="rgb(120, 120, 250)" stop-opacity="0.947"/><stop offset="67.5%" stop-color="rgb(120, 120, 250)" stop-opacity="0.886"/><stop offset="71.7%" stop-color="rgb(120, 120, 250)" stop-opacity="0.675"/><stop offset="75.9%" stop-color="rgb(120, 120, 250)" stop-opacity="0.538"/><stop offset="80.2%" stop-color="rgb(120, 120, 250)" stop-opacity="0.507"/><stop offset="84.4%" stop-color="rgb(120, 120, 250)" stop-opacity="0.488"/><stop offset="88.6%" stop-color="rgb(120, 120, 250)" stop-opacity="0.467"/><stop offset="92.8%" stop-color="rgb(120, 120, 250)" stop-opacity="0.442"/><stop offset="97.0%" stop-color="rgb(120, 120, 250)" stop-opacity="0.419"/></linearGradient>
<linearGradient id="pg5" x1="0" y1="0" x2="0" y2="1"><stop offset="0.0%" stop-color="rgb(120, 120, 250)" stop-opacity="0.074"/><stop offset="4.2%" stop-color="rgb(120, 120, 250)" stop-opacity="0.079"/><stop offset="8.4%" stop-color="rgb(120, 120, 250)" stop-opacity="0.086"/><stop offset="12.7%" stop-color="rgb(120, 120, 250)" stop-opacity="0.093"/><stop offset="16.9%" stop-color="rgb(120, 120, 250)" stop-opacity="0.101"/><stop offset="21.1%" stop-color="rgb(120, 120, 250)" stop-opacity="0.113"/><stop offset="25.3%" stop-color="rgb(120, 120, 250)" stop-opacity="0.222"/><stop offset="29.5%" stop-color="rgb(120, 120, 250)" stop-opacity="0.572"/><stop offset="33.8%" stop-color="rgb(120, 120, 250)" stop-opacity="0.779"/><stop offset="38.0%" stop-color="rgb(120, 120, 250)" stop-opacity="0.800"/><stop offset="42.2%" stop-color="rgb(120, 120, 250)" stop-opacity="0.795"/><stop offset="46.4%" stop-color="rgb(120, 120, 250)" stop-opacity="0.697"/><stop offset="50.6%" stop-color="rgb(120, 120, 250)" stop-opacity="0.361"/><stop offset="54.9%" stop-color="rgb(120, 120, 250)" stop-opacity="0.152"/><stop offset="59.1%" stop-color="rgb(120, 120, 250)" stop-opacity="0.119"/><stop offset="63.3%" stop-color="rgb(120, 120, 250)" stop-opacity="0.105"/><stop offset="67.5%" stop-color="rgb(120, 120, 250)" stop-opacity="0.094"/><stop offset="71.7%" stop-color="rgb(120, 120, 250)" stop-opacity="0.086"/><stop offset="75.9%" stop-color="rgb(120, 120, 250)" stop-opacity="0.079"/><stop offset="80.2%" stop-color="rgb(120, 120, 250)" stop-opacity="0.072"/><stop offset="84.4%" stop-color="rgb(120, 120, 250)" stop-opacity="0.065"/><stop offset="88.6%" stop-color="rgb(120, 120, 250)" stop-opacity="0.059"/><stop offset="92.8%" stop-color="rgb(120, 120, 250)" stop-opacity="0.052"/><stop offset="97.0%" stop-color="rgb(120, 120, 250)" stop-opacity="0.045"/></linearGradient>
<linearGradient id="pg6" x1="0" y1="0" x2="0" y2="1"><stop offset="0.0%" stop-color="rgb(120, 120, 250)" stop-opacity="0.092"/><stop offset="4.2%" stop-color="rgb(120, 120, 250)" stop-opacity="0.099"/><stop offset="8.4%" stop-color="rgb(120, 120, 250)" stop-opacity="0.108"/><stop offset="12.7%" stop-color="rgb(120, 120, 250)" stop-opacity="0.117"/><stop offset="16.9%" stop-color="rgb(120, 120, 250)" stop-opacity="0.126"/><stop offset="21.1%" stop-color="rgb(120, 120, 250)" stop-opacity="0.140"/><stop offset="25.3%" stop-color="rgb(120, 120, 250)" stop-opacity="0.261"/><stop offset="29.5%" stop-color="rgb(120, 120, 250)" stop-opacity="0.648"/><stop offset="33.8%" stop-color="rgb(120, 120, 250)" stop-opacity="0.877"/><stop offset="38.0%" stop-color="rgb(120, 120, 250)" stop-opacity="0.900"/><stop offset="42.2%" stop-color="rgb(120, 120, 250)" stop-opacity="0.900"/><stop offset="46.4%" stop-color="rgb(120, 120, 250)" stop-opacity="0.899"/><stop offset="50.6%" stop-color="rgb(120, 120, 250)" stop-opacity="0.861"/><stop offset="54.9%" stop-color="rgb(120, 120, 250)" stop-opacity="0.595"/><stop offset="59.1%" stop-color="rgb(120, 120, 250)" stop-opacity="0.272"/><stop offset="63.3%" stop-color="rgb(120, 120, 250)" stop-opacity="0.191"/><stop offset="67.5%" stop-color="rgb(120, 120, 250)" stop-opacity="0.171"/><stop offset="71.7%" stop-color="rgb(120, 120, 250)" stop-opacity="0.155"/><stop offset="75.9%" stop-color="rgb(120, 120, 250)" stop-opacity="0.142"/><stop offset="80.2%" stop-color="rgb(120, 120, 250)" stop-opacity="0.131"/><stop offset="84.4%" stop-color="rgb(120, 120, 250)" stop-opacity="0.120"/><stop offset="88.6%" stop-color="rgb(120, 120, 250)" stop-opacity="0.109"/><stop offset="92.8%" stop-color="rgb(120, 120, 250)" stop-opacity="0.098"/><stop offset="97.0%" stop-color="rgb(120, 120, 250)" stop-opacity="0.088"/></linearGradient>
<linearGradient id="pg7" x1="0" y1="0" x2="0" y2="1"><stop offset="0.0%" stop-color="rgb(120, 120, 250)" stop-opacity="0.136"/><stop offset="4.2%" stop-color="rgb(120, 120, 250)" stop-opacity="0.147"/><stop offset="8.4%" stop-color="rgb(120, 120, 250)" stop-opacity="0.160"/><stop offset="12.7%" stop-color="rgb(120, 120, 250)" stop-opacity="0.175"/><stop offset="16.9%" stop-color="rgb(120, 120, 250)" stop-opacity="0.190"/><stop offset="21.1%" stop-color="rgb(120, 120, 250)" stop-opacity="0.246"/><stop offset="25.3%" stop-color="rgb(120, 120, 250)" stop-opacity="0.547"/><stop offset="29.5%" stop-color="rgb(120, 120, 250)" stop-opacity="0.896"/><stop offset="33.8%" stop-color="rgb(120, 120, 250)" stop-opacity="0.968"/><stop offset="38.0%" stop-color="rgb(120, 120, 250)" stop-opacity="0.970"/><stop offset="42.2%" stop-color="rgb(120, 120, 250)" stop-opacity="0.970"/><stop offset="46.4%" stop-color="rgb(120, 120, 250)" stop-opacity="0.970"/><stop offset="50.6%" stop-color="rgb(120, 120, 250)" stop-opacity="0.965"/><stop offset="54.9%" stop-color="rgb(120, 120, 250)" stop-opacity="0.863"/><stop offset="59.1%" stop-color="rgb(120, 120, 250)" stop-opacity="0.517"/><stop offset="63.3%" stop-color="rgb(120, 120, 250)" stop-opacity="0.301"/><stop offset="67.5%" stop-color="rgb(120, 120, 250)" stop-opacity="0.266"/><stop offset="71.7%" stop-color="rgb(120, 120, 250)" stop-opacity="0.251"/><stop offset="75.9%" stop-color="rgb(120, 120, 250)" stop-opacity="0.238"/><stop offset="80.2%" stop-color="rgb(120, 120, 250)" stop-opacity="0.227"/><stop offset="84.4%" stop-color="rgb(120, 120, 250)" stop-opacity="0.217"/><stop offset="88.6%" stop-color="rgb(120, 120, 250)" stop-opacity="0.207"/><stop offset="92.8%" stop-color="rgb(120, 120, 250)" stop-opacity="0.197"/><stop offset="97.0%" stop-color="rgb(120, 120, 250)" stop-opacity="0.188"/></linearGradient>
<linearGradient id="pg8" x1="0" y1="0" x2="0" y2="1"><stop offset="0.0%" stop-color="rgb(120, 120, 250)" stop-opacity="0.111"/><stop offset="4.2%" stop-color="rgb(120, 120, 250)" stop-opacity="0.119"/><stop offset="8.4%" stop-color="rgb(120, 120, 250)" stop-opacity="0.129"/><stop offset="12.7%" stop-color="rgb(120, 120, 250)" stop-opacity="0.140"/><stop offset="16.9%" stop-color="rgb(120, 120, 250)" stop-opacity="0.151"/><stop offset="21.1%" stop-color="rgb(120, 120, 250)" stop-opacity="0.167"/><stop offset="25.3%" stop-color="rgb(120, 120, 250)" stop-opacity="0.293"/><stop offset="29.5%" stop-color="rgb(120, 120, 250)" stop-opacity="0.692"/><stop offset="33.8%" stop-color="rgb(120, 120, 250)" stop-opacity="0.926"/><stop offset="38.0%" stop-color="rgb(120, 120, 250)" stop-opacity="0.950"/><stop offset="42.2%" stop-color="rgb(120, 120, 250)" stop-opacity="0.950"/><stop offset="46.4%" stop-color="rgb(120, 120, 250)" stop-opacity="0.950"/><stop offset="50.6%" stop-color="rgb(120, 120, 250)" stop-opacity="0.950"/><stop offset="54.9%" stop-color="rgb(120, 120, 250)" stop-opacity="0.945"/><stop offset="59.1%" stop-color="rgb(120, 120, 250)" stop-opacity="0.846"/><stop offset="63.3%" stop-color="rgb(120, 120, 250)" stop-opacity="0.508"/><stop offset="67.5%" stop-color="rgb(120, 120, 250)" stop-opacity="0.296"/><stop offset="71.7%" stop-color="rgb(120, 120, 250)" stop-opacity="0.257"/><stop offset="75.9%" stop-color="rgb(120, 120, 250)" stop-opacity="0.238"/><stop offset="80.2%" stop-color="rgb(120, 120, 250)" stop-opacity="0.221"/><stop offset="84.4%" stop-color="rgb(120, 120, 250)" stop-opacity="0.206"/><stop offset="88.6%" stop-color="rgb(120, 120, 250)" stop-opacity="0.191"/><stop offset="92.8%" stop-color="rgb(120, 120, 250)" stop-opacity="0.176"/><stop offset="97.0%" stop-color="rgb(120, 120, 250)" stop-opacity="0.161"/></linearGradient>
<linearGradient id="pg9" x1="0" y1="0" x2="0" y2="1"><stop offset="0.0%" stop-color="rgb(120, 120, 250)" stop-opacity="0.216"/><stop offset="4.2%" stop-color="rgb(120, 120, 250)" stop-opacity="0.231"/><stop offset="8.4%" stop-color="rgb(120, 120, 250)" stop-opacity="0.252"/><stop offset="12.7%" stop-color="rgb(120, 120, 250)" stop-opacity="0.273"/><stop offset="16.9%" stop-color="rgb(120, 120, 250)" stop-opacity="0.294"/><stop offset="21.1%" stop-color="rgb(120, 120, 250)" stop-opacity="0.319"/><stop offset="25.3%" stop-color="rgb(120, 120, 250)" stop-opacity="0.432"/><stop offset="29.5%" stop-color="rgb(120, 120, 250)" stop-opacity="0.760"/><stop offset="33.8%" stop-color="rgb(120, 120, 250)" stop-opacity="0.951"/><stop offset="38.0%" stop-color="rgb(120, 120, 250)" stop-opacity="0.970"/><stop offset="42.2%" stop-color="rgb(120, 120, 250)" stop-opacity="0.970"/><stop offset="46.4%" stop-color="rgb(120, 120, 250)" stop-opacity="0.970"/><stop offset="50.6%" stop-color="rgb(120, 120, 250)" stop-opacity="0.970"/><stop offset="54.9%" stop-color="rgb(120, 120, 250)" stop-opacity="0.970"/><stop offset="59.1%" stop-color="rgb(120, 120, 250)" stop-opacity="0.966"/><stop offset="63.3%" stop-color="rgb(120, 120, 250)" stop-opacity="0.879"/><stop offset="67.5%" stop-color="rgb(120, 120, 250)" stop-opacity="0.582"/><stop offset="71.7%" stop-color="rgb(120, 120, 250)" stop-opacity="0.393"/><stop offset="75.9%" stop-color="rgb(120, 120, 250)" stop-opacity="0.357"/><stop offset="80.2%" stop-color="rgb(120, 120, 250)" stop-opacity="0.338"/><stop offset="84.4%" stop-color="rgb(120, 120, 250)" stop-opacity="0.319"/><stop offset="88.6%" stop-color="rgb(120, 120, 250)" stop-opacity="0.301"/><stop offset="92.8%" stop-color="rgb(120, 120, 250)" stop-opacity="0.282"/><stop offset="97.0%" stop-color="rgb(120, 120, 250)" stop-opacity="0.264"/></linearGradient>
<linearGradient id="pg10" x1="0" y1="0" x2="0" y2="1"><stop offset="0.0%" stop-color="rgb(120, 120, 250)" stop-opacity="0.154"/><stop offset="4.2%" stop-color="rgb(120, 120, 250)" stop-opacity="0.165"/><stop offset="8.4%" stop-color="rgb(120, 120, 250)" stop-opacity="0.180"/><stop offset="12.7%" stop-color="rgb(120, 120, 250)" stop-opacity="0.195"/><stop offset="16.9%" stop-color="rgb(120, 120, 250)" stop-opacity="0.210"/><stop offset="21.1%" stop-color="rgb(120, 120, 250)" stop-opacity="0.230"/><stop offset="25.3%" stop-color="rgb(120, 120, 250)" stop-opacity="0.349"/><stop offset="29.5%" stop-color="rgb(120, 120, 250)" stop-opacity="0.714"/><stop offset="33.8%" stop-color="rgb(120, 120, 250)" stop-opacity="0.928"/><stop offset="38.0%" stop-color="rgb(120, 120, 250)" stop-opacity="0.950"/><stop offset="42.2%" stop-color="rgb(120, 120, 250)" stop-opacity="0.950"/><stop offset="46.4%" stop-color="rgb(120, 120, 250)" stop-opacity="0.950"/><stop offset="50.6%" stop-color="rgb(120, 120, 250)" stop-opacity="0.950"/><stop offset="54.9%" stop-color="rgb(120, 120, 250)" stop-opacity="0.950"/><stop offset="59.1%" stop-color="rgb(120, 120, 250)" stop-opacity="0.946"/><stop offset="63.3%" stop-color="rgb(120, 120, 250)" stop-opacity="0.854"/><stop offset="67.5%" stop-color="rgb(120, 120, 250)" stop-opacity="0.540"/><stop offset="71.7%" stop-color="rgb(120, 120, 250)" stop-opacity="0.341"/><stop offset="75.9%" stop-color="rgb(120, 120, 250)" stop-opacity="0.301"/><stop offset="80.2%" stop-color="rgb(120, 120, 250)" stop-opacity="0.280"/><stop offset="84.4%" stop-color="rgb(120, 120, 250)" stop-opacity="0.259"/><stop offset="88.6%" stop-color="rgb(120, 120, 250)" stop-opacity="0.237"/><stop offset="92.8%" stop-color="rgb(120, 120, 250)" stop-opacity="0.216"/><stop offset="97.0%" stop-color="rgb(120, 120, 250)" stop-opacity="0.196"/></linearGradient>
<linearGradient id="pg11" x1="0" y1="0" x2="0" y2="1"><stop offset="0.0%" stop-color="rgb(120, 120, 250)" stop-opacity="0.092"/><stop offset="4.2%" stop-color="rgb(120, 120, 250)" stop-opacity="0.099"/><stop offset="8.4%" stop-color="rgb(120, 120, 250)" stop-opacity="0.108"/><stop offset="12.7%" stop-color="rgb(120, 120, 250)" stop-opacity="0.117"/><stop offset="16.9%" stop-color="rgb(120, 120, 250)" stop-opacity="0.126"/><stop offset="21.1%" stop-color="rgb(120, 120, 250)" stop-opacity="0.140"/><stop offset="25.3%" stop-color="rgb(120, 120, 250)" stop-opacity="0.261"/><stop offset="29.5%" stop-color="rgb(120, 120, 250)" stop-opacity="0.648"/><stop offset="33.8%" stop-color="rgb(120, 120, 250)" stop-opacity="0.877"/><stop offset="38.0%" stop-color="rgb(120, 120, 250)" stop-opacity="0.900"/><stop offset="42.2%" stop-color="rgb(120, 120, 250)" stop-opacity="0.900"/><stop offset="46.4%" stop-color="rgb(120, 120, 250)" stop-opacity="0.895"/><stop offset="50.6%" stop-color="rgb(120, 120, 250)" stop-opacity="0.789"/><stop offset="54.9%" stop-color="rgb(120, 120, 250)" stop-opacity="0.426"/><stop offset="59.1%" stop-color="rgb(120, 120, 250)" stop-opacity="0.199"/><stop offset="63.3%" stop-color="rgb(120, 120, 250)" stop-opacity="0.160"/><stop offset="67.5%" stop-color="rgb(120, 120, 250)" stop-opacity="0.143"/><stop offset="71.7%" stop-color="rgb(120, 120, 250)" stop-opacity="0.128"/><stop offset="75.9%" stop-color="rgb(120, 120, 250)" stop-opacity="0.117"/><stop offset="80.2%" stop-color="rgb(120, 120, 250)" stop-opacity="0.107"/><stop offset="84.4%" stop-color="rgb(120, 120, 250)" stop-opacity="0.097"/><stop offset="88.6%" stop-color="rgb(120, 120, 250)" stop-opacity="0.087"/><stop offset="92.8%" stop-color="rgb(120, 120, 250)" stop-opacity="0.077"/><stop offset="97.0%" stop-color="rgb(120, 120, 250)" stop-opacity="0.068"/></linearGradient>
<linearGradient id="pg12" x1="0" y1="0" x2="0" y2="1"><stop offset="0.0%" stop-color="rgb(120, 120, 250)" stop-opacity="0.321"/><stop offset="4.2%" stop-color="rgb(120, 120, 250)" stop-opacity="0.346"/><stop offset="8.4%" stop-color="rgb(120, 120, 250)" stop-opacity="0.379"/><stop offset="12.7%" stop-color="rgb(120, 120, 250)" stop-opacity="0.413"/><stop offset="16.9%" stop-color="rgb(120, 120, 250)" stop-opacity="0.447"/><stop offset="21.1%" stop-color="rgb(120, 120, 250)" stop-opacity="0.505"/><stop offset="25.3%" stop-color="rgb(120, 120, 250)" stop-opacity="0.706"/><stop offset="29.5%" stop-color="rgb(120, 120, 250)" stop-opacity="0.924"/><stop offset="33.8%" stop-color="rgb(120, 120, 250)" stop-opacity="0.969"/><stop offset="38.0%" stop-color="rgb(120, 120, 250)" stop-opacity="0.970"/><stop offset="42.2%" stop-color="rgb(120, 120, 250)" stop-opacity="0.970"/><stop offset="46.4%" stop-color="rgb(120, 120, 250)" stop-opacity="0.970"/><stop offset="50.6%" stop-color="rgb(120, 120, 250)" stop-opacity="0.970"/><stop offset="54.9%" stop-color="rgb(120, 120, 250)" stop-opacity="0.970"/><stop offset="59.1%" stop-color="rgb(120, 120, 250)" stop-opacity="0.967"/><stop offset="63.3%" stop-color="rgb(120, 120, 250)" stop-opacity="0.903"/><stop offset="67.5%" stop-color="rgb(120, 120, 250)" stop-opacity="0.683"/><stop offset="71.7%" stop-color="rgb(120, 120, 250)" stop-opacity="0.542"/><stop offset="75.9%" stop-color="rgb(120, 120, 250)" stop-opacity="0.513"/><stop offset="80.2%" stop-color="rgb(120, 120, 250)" stop-opacity="0.496"/><stop offset="84.4%" stop-color="rgb(120, 120, 250)" stop-opacity="0.480"/><stop offset="88.6%" stop-color="rgb(120, 120, 250)" stop-opacity="0.464"/><stop offset="92.8%" stop-color="rgb(120, 120, 250)" stop-opacity="0.448"/><stop offset="97.0%" stop-color="rgb(120, 120, 250)" stop-opacity="0.432"/></linearGradient>
<linearGradient id="pg13" x1="0" y1="0" x2="0" y2="1"><stop offset="0.0%" stop-color="rgb(120, 120, 250)" stop-opacity="0.359"/><stop offset="4.2%" stop-color="rgb(120, 120, 250)" stop-opacity="0.390"/><stop offset="8.4%" stop-color="rgb(120, 120, 250)" stop-opacity="0.429"/><stop offset="12.7%" stop-color="rgb(120, 120, 250)" stop-opacity="0.470"/><stop offset="16.9%" stop-color="rgb(120, 120, 250)" stop-opacity="0.514"/><stop offset="21.1%" stop-color="rgb(120, 120, 250)" stop-opacity="0.615"/><stop offset="25.3%" stop-color="rgb(120, 120, 250)" stop-opacity="0.854"/><stop offset="29.5%" stop-color="rgb(120, 120, 250)" stop-opacity="0.987"/><stop offset="33.8%" stop-color="rgb(120, 120, 250)" stop-opacity="1.000"/><stop offset="38.0%" stop-color="rgb(120, 120, 250)" stop-opacity="1.000"/><stop offset="42.2%" stop-color="rgb(120, 120, 250)" stop-opacity="1.000"/><stop offset="46.4%" stop-color="rgb(120, 120, 250)" stop-opacity="1.000"/><stop offset="50.6%" stop-color="rgb(120, 120, 250)" stop-opacity="1.000"/><stop offset="54.9%" stop-color="rgb(120, 120, 250)" stop-opacity="1.000"/><stop offset="59.1%" stop-color="rgb(120, 120, 250)" stop-opacity="1.000"/><stop offset="63.3%" stop-color="rgb(120, 120, 250)" stop-opacity="0.977"/><stop offset="67.5%" stop-color="rgb(120, 120, 250)" stop-opacity="0.820"/><stop offset="71.7%" stop-color="rgb(120, 120, 250)" stop-opacity="0.627"/><stop offset="75.9%" stop-color="rgb(120, 120, 250)" stop-opacity="0.574"/><stop offset="80.2%" stop-color="rgb(120, 120, 250)" stop-opacity="0.558"/><stop offset="84.4%" stop-color="rgb(120, 120, 250)" stop-opacity="0.543"/><stop offset="88.6%" stop-color="rgb(120, 120, 250)" stop-opacity="0.526"/><stop offset="92.8%" stop-color="rgb(120, 120, 250)" stop-opacity="0.509"/><stop offset="97.0%" stop-color="rgb(120, 120, 250)" stop-opacity="0.493"/></linearGradient>
<linearGradient id="pg14" x1="0" y1="0" x2="0" y2="1"><stop offset="0.0%" stop-color="rgb(120, 120, 250)" stop-opacity="0.092"/><stop offset="4.2%" stop-color="rgb(120, 120, 250)" stop-opacity="0.099"/><stop offset="8.4%" stop-color="rgb(120, 120, 250)" stop-opacity="0.108"/><stop offset="12.7%" stop-color="rgb(120, 120, 250)" stop-opacity="0.117"/><stop offset="16.9%" stop-color="rgb(120, 120, 250)" stop-opacity="0.126"/><stop offset="21.1%" stop-color="rgb(120, 120, 250)" stop-opacity="0.140"/><stop offset="25.3%" stop-color="rgb(120, 120, 250)" stop-opacity="0.266"/><stop offset="29.5%" stop-color="rgb(120, 120, 250)" stop-opacity="0.668"/><stop offset="33.8%" stop-color="rgb(120, 120, 250)" stop-opacity="0.906"/><stop offset="38.0%" stop-color="rgb(120, 120, 250)" stop-opacity="0.930"/><stop offset="42.2%" stop-color="rgb(120, 120, 250)" stop-opacity="0.930"/><stop offset="46.4%" stop-color="rgb(120, 120, 250)" stop-opacity="0.930"/><stop offset="50.6%" stop-color="rgb(120, 120, 250)" stop-opacity="0.930"/><stop offset="54.9%" stop-color="rgb(120, 120, 250)" stop-opacity="0.925"/><stop offset="59.1%" stop-color="rgb(120, 120, 250)" stop-opacity="0.822"/><stop offset="63.3%" stop-color="rgb(120, 120, 250)" stop-opacity="0.467"/><stop offset="67.5%" stop-color="rgb(120, 120, 250)" stop-opacity="0.243"/><stop offset="71.7%" stop-color="rgb(120, 120, 250)" stop-opacity="0.201"/><stop offset="75.9%" stop-color="rgb(120, 120, 250)" stop-opacity="0.180"/><stop offset="80.2%" stop-color="rgb(120, 120, 250)" stop-opacity="0.161"/><stop offset="84.4%" stop-color="rgb(120, 120, 250)" stop-opacity="0.143"/><stop offset="88.6%" stop-color="rgb(120, 120, 250)" stop-opacity="0.126"/><stop offset="92.8%" stop-color="rgb(120, 120, 250)" stop-opacity="0.109"/><stop offset="97.0%" stop-color="rgb(120, 120, 250)" stop-opacity="0.093"/></linearGradient>
<linearGradient id="pg15" x1="0" y1="0" x2="0" y2="1"><stop offset="0.0%" stop-color="rgb(120, 120, 250)" stop-opacity="0.111"/><stop offset="4.2%" stop-color="rgb(120, 120, 250)" stop-opacity="0.119"/><stop offset="8.4%" stop-color="rgb(120, 120, 250)" stop-opacity="0.129"/><stop offset="12.7%" stop-color="rgb(120, 120, 250)" stop-opacity="0.140"/><stop offset="16.9%" stop-color="rgb(120, 120, 250)" stop-opacity="0.151"/><stop offset="21.1%" stop-color="rgb(120, 120, 250)" stop-opacity="0.167"/><stop offset="25.3%" stop-color="rgb(120, 120, 250)" stop-opacity="0.290"/><stop offset="29.5%" stop-color="rgb(120, 120, 250)" stop-opacity="0.678"/><stop offset="33.8%" stop-color="rgb(120, 120, 250)" stop-opacity="0.907"/><stop offset="38.0%" stop-color="rgb(120, 120, 250)" stop-opacity="0.930"/><stop offset="42.2%" stop-color="rgb(120, 120, 250)" stop-opacity="0.930"/><stop offset="46.4%" stop-color="rgb(120, 120, 250)" stop-opacity="0.930"/><stop offset="50.6%" stop-color="rgb(120, 120, 250)" stop-opacity="0.929"/><stop offset="54.9%" stop-color="rgb(120, 120, 250)" stop-opacity="0.893"/><stop offset="59.1%" stop-color="rgb(120, 120, 250)" stop-opacity="0.638"/><stop offset="63.3%" stop-color="rgb(120, 120, 250)" stop-opacity="0.325"/><stop offset="67.5%" stop-color="rgb(120, 120, 250)" stop-opacity="0.241"/><stop offset="71.7%" stop-color="rgb(120, 120, 250)" stop-opacity="0.217"/><stop offset="75.9%" stop-color="rgb(120, 120, 250)" stop-opacity="0.196"/><stop offset="80.2%" stop-color="rgb(120, 120, 250)" stop-opacity="0.177"/><stop offset="84.4%" stop-color="rgb(120, 120, 250)" stop-opacity="0.161"/><stop offset="88.6%" stop-color="rgb(120, 120, 250)" stop-opacity="0.144"/><stop offset="92.8%" stop-color="rgb(120, 120, 250)" stop-opacity="0.128"/><stop offset="97.0%" stop-color="rgb(120, 120, 250)" stop-opacity="0.112"/></linearGradient>
<linearGradient id="pg16" x1="0" y1="0" x2="0" y2="1"><stop offset="0.0%" stop-color="rgb(120, 120, 250)" stop-opacity="0.216"/><stop offset="4.2%" stop-color="rgb(120, 120, 250)" stop-opacity="0.233"/><stop offset="8.4%" stop-color="rgb(120, 120, 250)" stop-opacity="0.255"/><stop offset="12.7%" stop-color="rgb(120, 120, 250)" stop-opacity="0.278"/><stop offset="16.9%" stop-color="rgb(120, 120, 250)" stop-opacity="0.301"/><stop offset="21.1%" stop-color="rgb(120, 120, 250)" stop-opacity="0.358"/><stop offset="25.3%" stop-color="rgb(120, 120, 250)" stop-opacity="0.616"/><stop offset="29.5%" stop-color="rgb(120, 120, 250)" stop-opacity="0.908"/><stop offset="33.8%" stop-color="rgb(120, 120, 250)" stop-opacity="0.968"/><stop offset="38.0%" stop-color="rgb(120, 120, 250)" stop-opacity="0.970"/><stop offset="42.2%" stop-color="rgb(120, 120, 250)" stop-opacity="0.970"/><stop offset="46.4%" stop-color="rgb(120, 120, 250)" stop-opacity="0.970"/><stop offset="50.6%" stop-color="rgb(120, 120, 250)" stop-opacity="0.970"/><stop offset="54.9%" stop-color="rgb(120, 120, 250)" stop-opacity="0.969"/><stop offset="59.1%" stop-color="rgb(120, 120, 250)" stop-opacity="0.937"/><stop offset="63.3%" stop-color="rgb(120, 120, 250)" stop-opacity="0.715"/><stop offset="67.5%" stop-color="rgb(120, 120, 250)" stop-opacity="0.443"/><stop offset="71.7%" stop-color="rgb(120, 120, 250)" stop-opacity="0.375"/><stop offset="75.9%" stop-color="rgb(120, 120, 250)" stop-opacity="0.358"/><stop offset="80.2%" stop-color="rgb(120, 120, 250)" stop-opacity="0.343"/><stop offset="84.4%" stop-color="rgb(120, 120, 250)" stop-opacity="0.329"/><stop offset="88.6%" stop-color="rgb(120, 120, 250)" stop-opacity="0.316"/><stop offset="92.8%" stop-color="rgb(120, 120, 250)" stop-opacity="0.303"/><stop offset="97.0%" stop-color="rgb(120, 120, 250)" stop-opacity="0.290"/></linearGradient>
<linearGradient id="pg17" x1="0" y1="0" x2="0" y2="1"><stop offset="0.0%" stop-color="rgb(120, 120, 250)" stop-opacity="0.074"/><stop offset="4.2%" stop-color="rgb(120, 120, 250)" stop-opacity="0.079"/><stop offset="8.4%" stop-color="rgb(120, 120, 250)" stop-opacity="0.086"/><stop offset="12.7%" stop-color="rgb(120, 120, 250)" stop-opacity="0.093"/><stop offset="16.9%" stop-color="rgb(120, 120, 250)" stop-opacity="0.101"/><stop offset="21.1%" stop-color="rgb(120, 120, 250)" stop-opacity="0.113"/><stop offset="25.3%" stop-color="rgb(120, 120, 250)" stop-opacity="0.238"/><stop offset="29.5%" stop-color="rgb(120, 120, 250)" stop-opacity="0.639"/><stop offset="33.8%" stop-color="rgb(120, 120, 250)" stop-opacity="0.876"/><stop offset="38.0%" stop-color="rgb(120, 120, 250)" stop-opacity="0.900"/><stop offset="42.2%" stop-color="rgb(120, 120, 250)" stop-opacity="0.900"/><stop offset="46.4%" stop-color="rgb(120, 120, 250)" stop-opacity="0.895"/><stop offset="50.6%" stop-color="rgb(120, 120, 250)" stop-opacity="0.785"/><stop offset="54.9%" stop-color="rgb(120, 120, 250)" stop-opacity="0.413"/><stop offset="59.1%" stop-color="rgb(120, 120, 250)" stop-opacity="0.181"/><stop offset="63.3%" stop-color="rgb(120, 120, 250)" stop-opacity="0.143"/><stop offset="67.5%" stop-color="rgb(120, 120, 250)" stop-opacity="0.127"/><stop offset="71.7%" stop-color="rgb(120, 120, 250)" stop-opacity="0.113"/><stop offset="75.9%" stop-color="rgb(120, 120, 250)" stop-opacity="0.103"/><stop offset="80.2%" stop-color="rgb(120, 120, 250)" stop-opacity="0.094"/><stop offset="84.4%" stop-color="rgb(120, 120, 250)" stop-opacity="0.084"/><stop offset="88.6%" stop-color="rgb(120, 120, 250)" stop-opacity="0.075"/><stop offset="92.8%" stop-color="rgb(120, 120, 250)" stop-opacity="0.066"/><stop offset="97.0%" stop-color="rgb(120, 120, 250)" stop-opacity="0.057"/></linearGradient>
<linearGradient id="pg18" x1="0" y1="0" x2="0" y2="1"><stop offset="0.0%" stop-color="rgb(120, 120, 250)" stop-opacity="0.123"/><stop offset="4.2%" stop-color="rgb(120, 120, 250)" stop-opacity="0.132"/><stop offset="8.4%" stop-color="rgb(120, 120, 250)" stop-opacity="0.144"/><stop offset="12.7%" stop-color="rgb(120, 120, 250)" stop-opacity="0.156"/><stop offset="16.9%" stop-color="rgb(120, 120, 250)" stop-opacity="0.168"/><stop offset="21.1%" stop-color="rgb(120, 120, 250)" stop-opacity="0.185"/><stop offset="25.3%" stop-color="rgb(120, 120, 250)" stop-opacity="0.306"/><stop offset="29.5%" stop-color="rgb(120, 120, 250)" stop-opacity="0.685"/><stop offset="33.8%" stop-color="rgb(120, 120, 250)" stop-opacity="0.907"/><stop offset="38.0%" stop-color="rgb(120, 120, 250)" stop-opacity="0.930"/><stop offset="42.2%" stop-color="rgb(120, 120, 250)" stop-opacity="0.930"/><stop offset="46.4%" stop-color="rgb(120, 120, 250)" stop-opacity="0.930"/><stop offset="50.6%" stop-color="rgb(120, 120, 250)" stop-opacity="0.925"/><stop offset="54.9%" stop-color="rgb(120, 120, 250)" stop-opacity="0.822"/><stop offset="59.1%" stop-color="rgb(120, 120, 250)" stop-opacity="0.468"/><stop offset="63.3%" stop-color="rgb(120, 120, 250)" stop-opacity="0.247"/><stop offset="67.5%" stop-color="rgb(120, 120, 250)" stop-opacity="0.207"/><stop offset="71.7%" stop-color="rgb(120, 120, 250)" stop-opacity="0.188"/><stop offset="75.9%" stop-color="rgb(120, 120, 250)" stop-opacity="0.172"/><stop offset="80.2%" stop-color="rgb(120, 120, 250)" stop-opacity="0.159"/><stop offset="84.4%" stop-color="rgb(120, 120, 250)" stop-opacity="0.146"/><stop offset="88.6%" stop-color="rgb(120, 120, 250)" stop-opacity="0.134"/><stop offset="92.8%" stop-color="rgb(120, 120, 250)" stop-opacity="0.121"/><stop offset="97.0%" stop-color="rgb(120, 120, 250)" stop-opacity="0.109"/></linearGradient>
<linearGradient id="pg19" x1="0" y1="0" x2="0" y2="1"><stop offset="0.0%" stop-color="rgb(120, 120, 250)" stop-opacity="0.062"/><stop offset="4.2%" stop-color="rgb(120, 120, 250)" stop-opacity="0.066"/><stop offset="8.4%" stop-color="rgb(120, 120, 250)" stop-opacity="0.072"/><stop offset="12.7%" stop-color="rgb(120, 120, 250)" stop-opacity="0.078"/><stop offset="16.9%" stop-color="rgb(120, 120, 250)" stop-opacity="0.084"/><stop offset="21.1%" stop-color="rgb(120, 120, 250)" stop-opacity="0.095"/><stop offset="25.3%" stop-color="rgb(120, 120, 250)" stop-opacity="0.214"/><stop offset="29.5%" stop-color="rgb(120, 120, 250)" stop-opacity="0.599"/><stop offset="33.8%" stop-color="rgb(120, 120, 250)" stop-opacity="0.827"/><stop offset="38.0%" stop-color="rgb(120, 120, 250)" stop-opacity="0.850"/><stop offset="42.2%" stop-color="rgb(120, 120, 250)" stop-opacity="0.850"/><stop offset="46.4%" stop-color="rgb(120, 120, 250)" stop-opacity="0.845"/><stop offset="50.6%" stop-color="rgb(120, 120, 250)" stop-opacity="0.739"/><stop offset="54.9%" stop-color="rgb(120, 120, 250)" stop-opacity="0.377"/><stop offset="59.1%" stop-color="rgb(120, 120, 250)" stop-opacity="0.154"/><stop offset="63.3%" stop-color="rgb(120, 120, 250)" stop-opacity="0.119"/><stop offset="67.5%" stop-color="rgb(120, 120, 250)" stop-opacity="0.105"/><stop offset="71.7%" stop-color="rgb(120, 120, 250)" stop-opacity="0.094"/><stop offset="75.9%" stop-color="rgb(120, 120, 250)" stop-opacity="0.085"/><stop offset="80.2%" stop-color="rgb(120, 120, 250)" stop-opacity="0.077"/><stop offset="84.4%" stop-color="rgb(120, 120, 250)" stop-opacity="0.069"/><stop offset="88.6%" stop-color="rgb(120, 120, 250)" stop-opacity="0.061"/><stop offset="92.8%" stop-color="rgb(120, 120, 250)" stop-opacity="0.053"/><stop offset="97.0%" stop-color="rgb(120, 120, 250)" stop-opacity="0.046"/></linearGradient>
<linearGradient id="pg20" x1="0" y1="0" x2="0" y2="1"><stop offset="0.0%" stop-color="rgb(120, 120, 250)" stop-opacity="0.111"/><stop offset="4.2%" stop-color="rgb(120, 120, 250)" stop-opacity="0.119"/><stop offset="8.4%" stop-color="rgb(120, 120, 250)" stop-opacity="0.129"/><stop offset="12.7%" stop-color="rgb(120, 120, 250)" stop-opacity="0.140"/><stop offset="16.9%" stop-color="rgb(120, 120, 250)" stop-opacity="0.151"/><stop offset="21.1%" stop-color="rgb(120, 120, 250)" stop-opacity="0.167"/><stop offset="25.3%" stop-color="rgb(120, 120, 250)" stop-opacity="0.290"/><stop offset="29.5%" stop-color="rgb(120, 120, 250)" stop-opacity="0.678"/><stop offset="33.8%" stop-color="rgb(120, 120, 250)" stop-opacity="0.907"/><stop offset="38.0%" stop-color="rgb(120, 120, 250)" stop-opacity="0.930"/><stop offset="42.2%" stop-color="rgb(120, 120, 250)" stop-opacity="0.930"/><stop offset="46.4%" stop-color="rgb(120, 120, 250)" stop-opacity="0.930"/><stop offset="50.6%" stop-color="rgb(120, 120, 250)" stop-opacity="0.929"/><stop offset="54.9%" stop-color="rgb(120, 120, 250)" stop-opacity="0.894"/><stop offset="59.1%" stop-color="rgb(120, 120, 250)" stop-opacity="0.647"/><stop offset="63.3%" stop-color="rgb(120, 120, 250)" stop-opacity="0.343"/><stop offset="67.5%" stop-color="rgb(120, 120, 250)" stop-opacity="0.261"/><stop offset="71.7%" stop-color="rgb(120, 120, 250)" stop-opacity="0.237"/><stop offset="75.9%" stop-color="rgb(120, 120, 250)" stop-opacity="0.216"/><stop offset="80.2%" stop-color="rgb(120, 120, 250)" stop-opacity="0.197"/><stop offset="84.4%" stop-color="rgb(120, 120, 250)" stop-opacity="0.181"/><stop offset="88.6%" stop-color="rgb(120, 120, 250)" stop-opacity="0.164"/><stop offset="92.8%" stop-color="rgb(120, 120, 250)" stop-opacity="0.148"/><stop offset="97.0%" stop-color="rgb(120, 120, 250)" stop-opacity="0.132"/></linearGradient>
<linearGradient id="pg21" x1="0" y1="0" x2="0" y2="1"><stop offset="0.0%" stop-color="rgb(120, 120, 250)" stop-opacity="0.278"/><stop offset="4.2%" stop-color="rgb(120, 120, 250)" stop-opacity="0.300"/><stop offset="8.4%" stop-color="rgb(120, 120, 250)" stop-opacity="0.328"/><stop offset="12.7%" stop-color="rgb(120, 120, 250)" stop-opacity="0.357"/><stop offset="16.9%" stop-color="rgb(120, 120, 250)" stop-opacity="0.387"/><stop offset="21.1%" stop-color="rgb(120, 120, 250)" stop-opacity="0.445"/><stop offset="25.3%" stop-color="rgb(120, 120, 250)" stop-opacity="0.669"/><stop offset="29.5%" stop-color="rgb(120, 120, 250)" stop-opacity="0.918"/><stop offset="33.8%" stop-color="rgb(120, 120, 250)" stop-opacity="0.968"/><stop offset="38.0%" stop-color="rgb(120, 120, 250)" stop-opacity="0.970"/><stop offset="42.2%" stop-color="rgb(120, 120, 250)" stop-opacity="0.970"/><stop offset="46.4%" stop-color="rgb(120, 120, 250)" stop-opacity="0.970"/><stop offset="50.6%" stop-color="rgb(120, 120, 250)" stop-opacity="0.970"/><stop offset="54.9%" stop-color="rgb(120, 120, 250)" stop-opacity="0.969"/><stop offset="59.1%" stop-color="rgb(120, 120, 250)" stop-opacity="0.943"/><stop offset="63.3%" stop-color="rgb(120, 120, 250)" stop-opacity="0.759"/><stop offset="67.5%" stop-color="rgb(120, 120, 250)" stop-opacity="0.534"/><stop offset="71.7%" stop-color="rgb(120, 120, 250)" stop-opacity="0.474"/><stop offset="75.9%" stop-color="rgb(120, 120, 250)" stop-opacity="0.458"/><stop offset="80.2%" stop-color="rgb(120, 120, 250)" stop-opacity="0.443"/><stop offset="84.4%" stop-color="rgb(120, 120, 250)" stop-opacity="0.429"/><stop offset="88.6%" stop-color="rgb(120, 120, 250)" stop-opacity="0.416"/><stop offset="92.8%" stop-color="rgb(120, 120, 250)" stop-opacity="0.403"/><stop offset="97.0%" stop-color="rgb(120, 120, 250)" stop-opacity="0.390"/></linearGradient>
<linearGradient id="pg22" x1="0" y1="0" x2="0" y2="1"><stop offset="0.0%" stop-color="rgb(120, 120, 250)" stop-opacity="0.037"/><stop offset="4.2%" stop-color="rgb(120, 120, 250)" stop-opacity="0.040"/><stop offset="8.4%" stop-color="rgb(120, 120, 250)" stop-opacity="0.043"/><stop offset="12.7%" stop-color="rgb(120, 120, 250)" stop-opacity="0.047"/><stop offset="16.9%" stop-color="rgb(120, 120, 250)" stop-opacity="0.050"/><stop offset="21.1%" stop-color="rgb(120, 120, 250)" stop-opacity="0.060"/><stop offset="25.3%" stop-color="rgb(120, 120, 250)" stop-opacity="0.182"/><stop offset="29.5%" stop-color="rgb(120, 120, 250)" stop-opacity="0.586"/><stop offset="33.8%" stop-color="rgb(120, 120, 250)" stop-opacity="0.825"/><stop offset="38.0%" stop-color="rgb(120, 120, 250)" stop-opacity="0.850"/><stop offset="42.2%" stop-color="rgb(120, 120, 250)" stop-opacity="0.850"/><stop offset="46.4%" stop-color="rgb(120, 120, 250)" stop-opacity="0.849"/><stop offset="50.6%" stop-color="rgb(120, 120, 250)" stop-opacity="0.807"/><stop offset="54.9%" stop-color="rgb(120, 120, 250)" stop-opacity="0.515"/><stop offset="59.1%" stop-color="rgb(120, 120, 250)" stop-opacity="0.162"/><stop offset="63.3%" stop-color="rgb(120, 120, 250)" stop-opacity="0.079"/><stop offset="67.5%" stop-color="rgb(120, 120, 250)" stop-opacity="0.064"/><stop offset="71.7%" stop-color="rgb(120, 120, 250)" stop-opacity="0.052"/><stop offset="75.9%" stop-color="rgb(120, 120, 250)" stop-opacity="0.043"/><stop offset="80.2%" stop-color="rgb(120, 120, 250)" stop-opacity="0.036"/><stop offset="84.4%" stop-color="rgb(120, 120, 250)" stop-opacity="0.028"/><stop offset="88.6%" stop-color="rgb(120, 120, 250)" stop-opacity="0.020"/><stop offset="92.8%" stop-color="rgb(120, 120, 250)" stop-opacity="0.013"/><stop offset="97.0%" stop-color="rgb(120, 120, 250)" stop-opacity="0.006"/></linearGradient>
<linearGradient id="pg23" x1="0" y1="0" x2="0" y2="1"><stop offset="0.0%" stop-color="rgb(120, 120, 250)" stop-opacity="0.025"/><stop offset="4.2%" stop-color="rgb(120, 120, 250)" stop-opacity="0.026"/><stop offset="8.4%" stop-color="rgb(120, 120, 250)" stop-opacity="0.029"/><stop offset="12.7%" stop-color="rgb(120, 120, 250)" stop-opacity="0.031"/><stop offset="16.9%" stop-color="rgb(120, 120, 250)" stop-opacity="0.033"/><stop offset="21.1%" stop-color="rgb(120, 120, 250)" stop-opacity="0.038"/><stop offset="25.3%" stop-color="rgb(120, 120, 250)" stop-opacity="0.110"/><stop offset="29.5%" stop-color="rgb(120, 120, 250)" stop-opacity="0.446"/><stop offset="33.8%" stop-color="rgb(120, 120, 250)" stop-opacity="0.728"/><stop offset="38.0%" stop-color="rgb(120, 120, 250)" stop-opacity="0.769"/><stop offset="42.2%" stop-color="rgb(120, 120, 250)" stop-opacity="0.770"/><stop offset="46.4%" stop-color="rgb(120, 120, 250)" stop-opacity="0.768"/><stop offset="50.6%" stop-color="rgb(120, 120, 250)" stop-opacity="0.702"/><stop offset="54.9%" stop-color="rgb(120, 120, 250)" stop-opacity="0.382"/><stop offset="59.1%" stop-color="rgb(120, 120, 250)" stop-opacity="0.108"/><stop offset="63.3%" stop-color="rgb(120, 120, 250)" stop-opacity="0.060"/><stop offset="67.5%" stop-color="rgb(120, 120, 250)" stop-opacity="0.049"/><stop offset="71.7%" stop-color="rgb(120, 120, 250)" stop-opacity="0.040"/><stop offset="75.9%" stop-color="rgb(120, 120, 250)" stop-opacity="0.034"/><stop offset="80.2%" stop-color="rgb(120, 120, 250)" stop-opacity="0.028"/><stop offset="84.4%" stop-color="rgb(120, 120, 250)" stop-opacity="0.022"/><stop offset="88.6%" stop-color="rgb(120, 120, 250)" stop-opacity="0.016"/><stop offset="92.8%" stop-color="rgb(120, 120, 250)" stop-opacity="0.010"/><stop offset="97.0%" stop-color="rgb(120, 120, 250)" stop-opacity="0.004"/></linearGradient>
</defs>
<rect x="40.80" y="101.3" width="11.20" height="23.70" fill="url(#pg0)"/>
<rect x="53.63" y="101.3" width="11.20" height="23.70" fill="url(#pg1)"/>
<rect x="66.46" y="101.3" width="11.20" height="23.70" fill="url(#pg2)"/>
<rect x="79.29" y="101.3" width="11.20" height="23.70" fill="url(#pg3)"/>
<rect x="92.12" y="101.3" width="11.20" height="23.70" fill="url(#pg4)"/>
<rect x="104.95" y="101.3" width="11.20" height="23.70" fill="url(#pg5)"/>
<rect x="117.78" y="101.3" width="11.20" height="23.70" fill="url(#pg6)"/>
<rect x="130.61" y="101.3" width="11.20" height="23.70" fill="url(#pg7)"/>
<rect x="143.44" y="101.3" width="11.20" height="23.70" fill="url(#pg8)"/>
<rect x="156.27" y="101.3" width="11.20" height="23.70" fill="url(#pg9)"/>
<rect x="169.10" y="101.3" width="11.20" height="23.70" fill="url(#pg10)"/>
<rect x="181.93" y="101.3" width="11.20" height="23.70" fill="url(#pg11)"/>
<rect x="194.76" y="101.3" width="11.20" height="23.70" fill="url(#pg12)"/>
<rect x="207.59" y="101.3" width="11.20" height="23.70" fill="url(#pg13)"/>
<rect x="220.42" y="101.3" width="11.20" height="23.70" fill="url(#pg14)"/>
<rect x="233.25" y="101.3" width="11.20" height="23.70" fill="url(#pg15)"/>
<rect x="246.08" y="101.3" width="11.20" height="23.70" fill="url(#pg16)"/>
<rect x="258.91" y="101.3" width="11.20" height="23.70" fill="url(#pg17)"/>
<rect x="271.74" y="101.3" width="11.20" height="23.70" fill="url(#pg18)"/>
<rect x="284.57" y="101.3" width="11.20" height="23.70" fill="url(#pg19)"/>
<rect x="297.40" y="101.3" width="11.20" height="23.70" fill="url(#pg20)"/>
<rect x="310.23" y="101.3" width="11.20" height="23.70" fill="url(#pg21)"/>
<rect x="323.06" y="101.3" width="11.20" height="23.70" fill="url(#pg22)"/>
<rect x="335.89" y="101.3" width="11.20" height="23.70" fill="url(#pg23)"/>
<rect x="39.3" y="100.65" width="310" height="25.0" fill="none" stroke="#1e1e1e" stroke-width="1.35" rx="0.6"/>
<line x1="40" y1="125.65" x2="348.6" y2="125.65" stroke="#585858" stroke-width="1.4"/>
<line x1="40" y1="97.7" x2="348.6" y2="97.7" stroke="#585858" stroke-width="1.4"/>
<text transform="translate(0.6,11.8) scale(1,1.11)" font-size="12" font-weight="bold" fill="#111">a</text>
<text x="7.6000000000000005" y="11.0" font-size="12" fill="#222">)</text>
<text transform="translate(460,15.8) scale(1,1.11)" font-size="12" font-weight="bold" fill="#111">b</text>
<text x="467.59999999999997" y="15.0" font-size="12" fill="#222">)</text>
<text x="506.80" y="9.60" font-size="10" font-weight="bold" fill="#111" text-anchor="start" textLength="144.00" lengthAdjust="spacingAndGlyphs" >Placental DEPTOR expression</text>
<path d="M541.6 23.65 V145.4 H617.7" fill="none" stroke="#111" stroke-width="1.4"/>
<line x1="537.2" y1="145.40" x2="541.6" y2="145.40" stroke="#111" stroke-width="1.3"/>
<text x="535.00" y="150.00" font-size="12.6" font-weight="bold" fill="#111" text-anchor="end" >0</text>
<line x1="537.2" y1="121.05" x2="541.6" y2="121.05" stroke="#111" stroke-width="1.3"/>
<text x="535.00" y="125.65" font-size="12.6" font-weight="bold" fill="#111" text-anchor="end" >1</text>
<line x1="537.2" y1="96.70" x2="541.6" y2="96.70" stroke="#111" stroke-width="1.3"/>
<text x="535.00" y="101.30" font-size="12.6" font-weight="bold" fill="#111" text-anchor="end" >2</text>
<line x1="537.2" y1="72.35" x2="541.6" y2="72.35" stroke="#111" stroke-width="1.3"/>
<text x="535.00" y="76.95" font-size="12.6" font-weight="bold" fill="#111" text-anchor="end" >3</text>
<line x1="537.2" y1="48.00" x2="541.6" y2="48.00" stroke="#111" stroke-width="1.3"/>
<text x="535.00" y="52.60" font-size="12.6" font-weight="bold" fill="#111" text-anchor="end" >4</text>
<line x1="537.2" y1="23.65" x2="541.6" y2="23.65" stroke="#111" stroke-width="1.3"/>
<text x="535.00" y="28.25" font-size="12.6" font-weight="bold" fill="#111" text-anchor="end" >5</text>
<line x1="563.4" y1="145.4" x2="563.4" y2="149.70000000000002" stroke="#111" stroke-width="1.3"/>
<line x1="595.8" y1="145.4" x2="595.8" y2="149.70000000000002" stroke="#111" stroke-width="1.3"/>
<text transform="translate(519.50,132.90) rotate(-90)" font-size="13.5" font-weight="bold" fill="#111" text-anchor="start" textLength="105.60" lengthAdjust="spacingAndGlyphs">Relative density</text>
<rect x="553.3" y="121.7" width="20.4" height="23.70" fill="#fff" stroke="#111" stroke-width="1.5"/>
<rect x="585.6" y="76.6" width="20.6" height="68.80" fill="#a9a9ab" stroke="#111" stroke-width="1.5"/>
<circle cx="563.4" cy="96.5" r="1.85" fill="#111"/>
<circle cx="563.4" cy="109.1" r="1.85" fill="#111"/>
<circle cx="558.6" cy="111.2" r="1.85" fill="#111"/>
<circle cx="563.4" cy="114.1" r="1.85" fill="#111"/>
<circle cx="567.7" cy="114.1" r="1.85" fill="#111"/>
<circle cx="558.6" cy="115.7" r="1.85" fill="#111"/>
<circle cx="554.2" cy="118.7" r="1.85" fill="#111"/>
<circle cx="572.4" cy="118.6" r="1.85" fill="#111"/>
<circle cx="558.6" cy="120.3" r="1.85" fill="#111"/>
<circle cx="563.4" cy="120.1" r="1.85" fill="#111"/>
<circle cx="567.7" cy="120.3" r="1.85" fill="#111"/>
<circle cx="554.1" cy="123.1" r="1.85" fill="#111"/>
<circle cx="572.5" cy="123.1" r="1.85" fill="#111"/>
<circle cx="567.7" cy="124.9" r="1.85" fill="#111"/>
<circle cx="558.6" cy="126.6" r="1.85" fill="#111"/>
<circle cx="563.4" cy="126.6" r="1.85" fill="#111"/>
<circle cx="554.1" cy="128.4" r="1.85" fill="#111"/>
<circle cx="567.7" cy="129.5" r="1.85" fill="#111"/>
<circle cx="563.4" cy="131.3" r="1.85" fill="#111"/>
<circle cx="567.7" cy="134.4" r="1.85" fill="#111"/>
<circle cx="558.6" cy="136.3" r="1.85" fill="#111"/>
<circle cx="595.8" cy="52.1" r="1.85" fill="#111"/>
<circle cx="595.8" cy="66.4" r="1.85" fill="#111"/>
<circle cx="595.8" cy="71.4" r="1.85" fill="#111"/>
<circle cx="592.3" cy="75.6" r="1.85" fill="#111"/>
<circle cx="599.1" cy="77.5" r="1.85" fill="#111"/>
<circle cx="595.8" cy="79.2" r="1.85" fill="#111"/>
<circle cx="595.8" cy="82.3" r="1.85" fill="#111"/>
<circle cx="595.8" cy="90.6" r="1.85" fill="#111"/>
<circle cx="595.8" cy="95.1" r="1.85" fill="#111"/>
<path d="M589.8 71.4 H601.8 M595.8 71.4 V81.3 M589.8 81.3 H601.8" stroke="#111" stroke-width="1.2" fill="none"/>
<path d="M557 122.6 H570" stroke="#111" stroke-width="1.2" fill="none"/>
<path d="M595.40 40.50 L595.40 37.55 M595.40 40.50 L598.21 39.59 M595.40 40.50 L597.13 42.89 M595.40 40.50 L593.67 42.89 M595.40 40.50 L592.59 39.59 " stroke="#111" stroke-width="1.25" stroke-linecap="round" fill="none"/>
<text x="562.00" y="158.10" font-size="9" font-weight="bold" fill="#111" text-anchor="middle" textLength="19.40" lengthAdjust="spacingAndGlyphs" >AGA</text>
<text x="586.90" y="160.50" font-size="9" font-weight="bold" fill="#111" text-anchor="start" textLength="19.40" lengthAdjust="spacingAndGlyphs" >SGA</text>
<text x="586.90" y="170.80" font-size="9" font-weight="bold" fill="#111" text-anchor="start" >and</text>
<text x="586.90" y="181.70" font-size="9" font-weight="bold" fill="#111" text-anchor="start" >FGR</text>
<text transform="translate(0.4,156.8) scale(1,1.11)" font-size="12" font-weight="bold" fill="#111">c</text>
<text x="7.5" y="155.79999999999998" font-size="12" fill="#222">)</text>
<line x1="47.699999999999996" y1="332.4" x2="189.4" y2="332.4" stroke="#111" stroke-width="1.4"/>
<path d="M51.3 178.40 V333.09999999999997" fill="none" stroke="#111" stroke-width="1.4"/>
<text x="46.20" y="336.00" font-size="10" font-weight="bold" fill="#111" text-anchor="end" >0</text>
<line x1="47.699999999999996" y1="301.60" x2="51.3" y2="301.60" stroke="#111" stroke-width="1.3"/>
<text x="46.20" y="305.20" font-size="10" font-weight="bold" fill="#111" text-anchor="end" >1</text>
<line x1="47.699999999999996" y1="270.80" x2="51.3" y2="270.80" stroke="#111" stroke-width="1.3"/>
<text x="46.20" y="274.40" font-size="10" font-weight="bold" fill="#111" text-anchor="end" >2</text>
<line x1="47.699999999999996" y1="240.00" x2="51.3" y2="240.00" stroke="#111" stroke-width="1.3"/>
<text x="46.20" y="243.60" font-size="10" font-weight="bold" fill="#111" text-anchor="end" >3</text>
<line x1="47.699999999999996" y1="209.20" x2="51.3" y2="209.20" stroke="#111" stroke-width="1.3"/>
<text x="46.20" y="212.80" font-size="10" font-weight="bold" fill="#111" text-anchor="end" >4</text>
<line x1="47.699999999999996" y1="178.40" x2="51.3" y2="178.40" stroke="#111" stroke-width="1.3"/>
<text x="46.20" y="182.00" font-size="10" font-weight="bold" fill="#111" text-anchor="end" >5</text>
<line x1="51.30" y1="332.4" x2="51.30" y2="336.9" stroke="#111" stroke-width="1.3"/>
<text x="51.30" y="346.80" font-size="10.3" font-weight="bold" fill="#111" text-anchor="middle" >0</text>
<line x1="78.90" y1="332.4" x2="78.90" y2="336.9" stroke="#111" stroke-width="1.3"/>
<text x="78.90" y="346.80" font-size="10.3" font-weight="bold" fill="#111" text-anchor="middle" >20</text>
<line x1="106.50" y1="332.4" x2="106.50" y2="336.9" stroke="#111" stroke-width="1.3"/>
<text x="106.50" y="346.80" font-size="10.3" font-weight="bold" fill="#111" text-anchor="middle" >40</text>
<line x1="134.10" y1="332.4" x2="134.10" y2="336.9" stroke="#111" stroke-width="1.3"/>
<text x="134.10" y="346.80" font-size="10.3" font-weight="bold" fill="#111" text-anchor="middle" >60</text>
<line x1="161.70" y1="332.4" x2="161.70" y2="336.9" stroke="#111" stroke-width="1.3"/>
<text x="161.70" y="346.80" font-size="10.3" font-weight="bold" fill="#111" text-anchor="middle" >80</text>
<line x1="189.30" y1="332.4" x2="189.30" y2="336.9" stroke="#111" stroke-width="1.3"/>
<text x="189.30" y="346.80" font-size="10.3" font-weight="bold" fill="#111" text-anchor="middle" >100</text>
<text x="119.80" y="362.50" font-size="10.7" font-weight="bold" fill="#111" text-anchor="middle" textLength="112.80" lengthAdjust="spacingAndGlyphs" >Birthweight percentile</text>
<text transform="translate(22.40,252.20) rotate(-90)" font-size="10.7" font-weight="bold" fill="#111" text-anchor="middle" textLength="155.90" lengthAdjust="spacingAndGlyphs">Placental DEPTOR expression</text>
<text transform="translate(35.60,248.40) rotate(-90)" font-size="10.7" font-weight="bold" fill="#111" text-anchor="middle" textLength="86.80" lengthAdjust="spacingAndGlyphs">(Relative density)</text>
<line x1="52.7" y1="246.4" x2="172.5" y2="321.3" stroke="#111" stroke-width="1.1"/>
<circle cx="80" cy="298.1" r="2.85" fill="#000"/>
<circle cx="90.9" cy="292.3" r="2.85" fill="#000"/>
<circle cx="104.5" cy="288.1" r="2.85" fill="#000"/>
<circle cx="114.5" cy="294.1" r="2.85" fill="#000"/>
<circle cx="115.4" cy="310.3" r="2.85" fill="#000"/>
<circle cx="120.5" cy="292.3" r="2.85" fill="#000"/>
<circle cx="126.8" cy="270" r="2.85" fill="#000"/>
<circle cx="130.8" cy="286.3" r="2.85" fill="#000"/>
<circle cx="131.7" cy="298.1" r="2.85" fill="#000"/>
<circle cx="138.1" cy="300.3" r="2.85" fill="#000"/>
<circle cx="145" cy="307.8" r="2.85" fill="#000"/>
<circle cx="146.3" cy="304.6" r="2.85" fill="#000"/>
<circle cx="148.6" cy="303" r="2.85" fill="#000"/>
<circle cx="146.9" cy="300.2" r="2.85" fill="#000"/>
<circle cx="158.2" cy="312.5" r="2.85" fill="#000"/>
<circle cx="162.8" cy="307.8" r="2.85" fill="#000"/>
<circle cx="167.8" cy="314.2" r="2.85" fill="#000"/>
<circle cx="168.5" cy="317.7" r="2.85" fill="#000"/>
<circle cx="173" cy="320.6" r="2.85" fill="#000"/>
<circle cx="53.8" cy="214" r="3.0" fill="#1a1a1a"/>
<polygon points="53.80,210.76 54.68,212.79 56.88,213.00 55.23,214.46 55.70,216.62 53.80,215.50 51.90,216.62 52.37,214.46 50.72,213.00 52.92,212.79" fill="#ef3d4f"/>
<circle cx="62.9" cy="231.8" r="3.0" fill="#1a1a1a"/>
<polygon points="62.90,228.56 63.78,230.59 65.98,230.80 64.33,232.26 64.80,234.42 62.90,233.30 61.00,234.42 61.47,232.26 59.82,230.80 62.02,230.59" fill="#ef3d4f"/>
<circle cx="54.7" cy="238.1" r="3.0" fill="#1a1a1a"/>
<polygon points="54.70,234.86 55.58,236.89 57.78,237.10 56.13,238.56 56.60,240.72 54.70,239.60 52.80,240.72 53.27,238.56 51.62,237.10 53.82,236.89" fill="#ef3d4f"/>
<circle cx="54.1" cy="244.1" r="3.0" fill="#1a1a1a"/>
<polygon points="54.10,240.86 54.98,242.89 57.18,243.10 55.53,244.56 56.00,246.72 54.10,245.60 52.20,246.72 52.67,244.56 51.02,243.10 53.22,242.89" fill="#ef3d4f"/>
<circle cx="59.9" cy="246.1" r="3.0" fill="#1a1a1a"/>
<polygon points="59.90,242.86 60.78,244.89 62.98,245.10 61.33,246.56 61.80,248.72 59.90,247.60 58.00,248.72 58.47,246.56 56.82,245.10 59.02,244.89" fill="#ef3d4f"/>
<circle cx="59.2" cy="252.3" r="3.0" fill="#1a1a1a"/>
<polygon points="59.20,249.06 60.08,251.09 62.28,251.30 60.63,252.76 61.10,254.92 59.20,253.80 57.30,254.92 57.77,252.76 56.12,251.30 58.32,251.09" fill="#ef3d4f"/>
<circle cx="63.8" cy="261.7" r="3.0" fill="#1a1a1a"/>
<polygon points="63.80,258.46 64.68,260.49 66.88,260.70 65.23,262.16 65.70,264.32 63.80,263.20 61.90,264.32 62.37,262.16 60.72,260.70 62.92,260.49" fill="#ef3d4f"/>
<circle cx="64.4" cy="268.2" r="3.0" fill="#1a1a1a"/>
<polygon points="64.40,264.96 65.28,266.99 67.48,267.20 65.83,268.66 66.30,270.82 64.40,269.70 62.50,270.82 62.97,268.66 61.32,267.20 63.52,266.99" fill="#ef3d4f"/>
<text x="143.70" y="181.00" font-size="8.3" font-weight="normal" fill="#222" text-anchor="start" textLength="35.80" lengthAdjust="spacingAndGlyphs" >P&lt;0.0001</text>
<text x="143.70" y="195.80" font-size="8.3" font-weight="normal" fill="#222" text-anchor="start" textLength="37.60" lengthAdjust="spacingAndGlyphs" >r = −0.884</text>
<text x="141.60" y="206.50" font-size="8" fill="#e8303f">*</text>
<text x="145.60" y="208.80" font-size="6.6" font-weight="bold" fill="#222" text-anchor="start" textLength="35.50" lengthAdjust="spacingAndGlyphs" >Birthweight</text>
<text x="143.70" y="217.20" font-size="6.6" font-weight="bold" fill="#222" textLength="47.70" lengthAdjust="spacingAndGlyphs">&lt;10<tspan font-size="4.5" dy="-2.5">th</tspan><tspan dy="2.5"> percentile</tspan></text>
<text transform="translate(227.6,159.7) scale(1,1.11)" font-size="12" font-weight="bold" fill="#111">d</text>
<text x="235.6" y="158.89999999999998" font-size="12" fill="#222">)</text>
<line x1="277.7" y1="335.3" x2="422.2" y2="335.3" stroke="#5c5c5c" stroke-width="1.4"/>
<path d="M281.3 184.80 V336.0" fill="none" stroke="#111" stroke-width="1.4"/>
<text x="276.30" y="339.10" font-size="11" font-weight="bold" fill="#111" text-anchor="end" >0</text>
<line x1="277.7" y1="305.20" x2="281.3" y2="305.20" stroke="#111" stroke-width="1.3"/>
<text x="276.30" y="309.00" font-size="11" font-weight="bold" fill="#111" text-anchor="end" >1</text>
<line x1="277.7" y1="275.10" x2="281.3" y2="275.10" stroke="#111" stroke-width="1.3"/>
<text x="276.30" y="278.90" font-size="11" font-weight="bold" fill="#111" text-anchor="end" >2</text>
<line x1="277.7" y1="245.00" x2="281.3" y2="245.00" stroke="#111" stroke-width="1.3"/>
<text x="276.30" y="248.80" font-size="11" font-weight="bold" fill="#111" text-anchor="end" >3</text>
<line x1="277.7" y1="214.90" x2="281.3" y2="214.90" stroke="#111" stroke-width="1.3"/>
<text x="276.30" y="218.70" font-size="11" font-weight="bold" fill="#111" text-anchor="end" >4</text>
<line x1="277.7" y1="184.80" x2="281.3" y2="184.80" stroke="#111" stroke-width="1.3"/>
<text x="276.30" y="188.60" font-size="11" font-weight="bold" fill="#111" text-anchor="end" >5</text>
<line x1="281.30" y1="335.3" x2="281.30" y2="339.8" stroke="#111" stroke-width="1.3"/>
<text x="281.30" y="350.50" font-size="10.6" font-weight="bold" fill="#111" text-anchor="middle" >70</text>
<line x1="316.45" y1="335.3" x2="316.45" y2="339.8" stroke="#5c5c5c" stroke-width="1.3"/>
<text x="316.45" y="350.50" font-size="10.6" font-weight="bold" fill="#111" text-anchor="middle" >80</text>
<line x1="351.60" y1="335.3" x2="351.60" y2="339.8" stroke="#5c5c5c" stroke-width="1.3"/>
<text x="351.60" y="350.50" font-size="10.6" font-weight="bold" fill="#111" text-anchor="middle" >90</text>
<line x1="386.75" y1="335.3" x2="386.75" y2="339.8" stroke="#5c5c5c" stroke-width="1.3"/>
<text x="386.75" y="350.50" font-size="10.6" font-weight="bold" fill="#111" text-anchor="middle" >100</text>
<line x1="421.90" y1="335.3" x2="421.90" y2="339.8" stroke="#5c5c5c" stroke-width="1.3"/>
<text x="421.90" y="350.50" font-size="10.6" font-weight="bold" fill="#111" text-anchor="middle" >110</text>
<text x="351.60" y="367.30" font-size="10.9" font-weight="bold" fill="#111" text-anchor="middle" textLength="72.50" lengthAdjust="spacingAndGlyphs" >Mean systolic</text>
<text x="353.50" y="380.20" font-size="10.9" font-weight="bold" fill="#111" text-anchor="middle" textLength="128.30" lengthAdjust="spacingAndGlyphs" >blood pressure (mm Hg)</text>
<text transform="translate(250.90,256.00) rotate(-90)" font-size="11.4" font-weight="bold" fill="#111" text-anchor="middle" textLength="169.40" lengthAdjust="spacingAndGlyphs">Placental DEPTOR expression</text>
<text transform="translate(264.90,256.20) rotate(-90)" font-size="11.4" font-weight="bold" fill="#111" text-anchor="middle" textLength="98.60" lengthAdjust="spacingAndGlyphs">(Relative density)</text>
<line x1="304.9" y1="316.4" x2="410.2" y2="270.6" stroke="#111" stroke-width="1.1"/>
<circle cx="304.2" cy="313.9" r="2.85" fill="#000"/>
<circle cx="328.7" cy="309.7" r="2.85" fill="#000"/>
<circle cx="341.1" cy="296.3" r="2.85" fill="#000"/>
<circle cx="351.5" cy="297.9" r="2.85" fill="#000"/>
<circle cx="356.7" cy="303.5" r="2.85" fill="#000"/>
<circle cx="353.6" cy="308.1" r="2.85" fill="#000"/>
<circle cx="358.3" cy="311.4" r="2.85" fill="#000"/>
<circle cx="343.2" cy="317.6" r="2.85" fill="#000"/>
<circle cx="346.3" cy="323.2" r="2.85" fill="#000"/>
<circle cx="357.1" cy="321.1" r="2.85" fill="#000"/>
<circle cx="368" cy="274.8" r="2.85" fill="#000"/>
<circle cx="409.9" cy="290.4" r="2.85" fill="#000"/>
<circle cx="376.3" cy="292.2" r="2.85" fill="#000"/>
<circle cx="387.2" cy="296.1" r="2.85" fill="#000"/>
<circle cx="383.5" cy="302" r="2.85" fill="#000"/>
<circle cx="402.7" cy="302" r="2.85" fill="#000"/>
<circle cx="375" cy="305.9" r="2.85" fill="#000"/>
<circle cx="372.9" cy="315.5" r="2.85" fill="#000"/>
<circle cx="364.6" cy="311.6" r="2.85" fill="#000"/>
<circle cx="360.3" cy="219.8" r="3.0" fill="#1a1a1a"/>
<polygon points="360.30,216.56 361.18,218.59 363.38,218.80 361.73,220.26 362.20,222.42 360.30,221.30 358.40,222.42 358.87,220.26 357.22,218.80 359.42,218.59" fill="#ef3d4f"/>
<circle cx="367.8" cy="237.8" r="3.0" fill="#1a1a1a"/>
<polygon points="367.80,234.56 368.68,236.59 370.88,236.80 369.23,238.26 369.70,240.42 367.80,239.30 365.90,240.42 366.37,238.26 364.72,236.80 366.92,236.59" fill="#ef3d4f"/>
<circle cx="361" cy="249.4" r="3.0" fill="#1a1a1a"/>
<polygon points="361.00,246.16 361.88,248.19 364.08,248.40 362.43,249.86 362.90,252.02 361.00,250.90 359.10,252.02 359.57,249.86 357.92,248.40 360.12,248.19" fill="#ef3d4f"/>
<circle cx="368" cy="257.2" r="3.0" fill="#1a1a1a"/>
<polygon points="368.00,253.96 368.88,255.99 371.08,256.20 369.43,257.66 369.90,259.82 368.00,258.70 366.10,259.82 366.57,257.66 364.92,256.20 367.12,255.99" fill="#ef3d4f"/>
<circle cx="363.8" cy="267" r="3.0" fill="#1a1a1a"/>
<polygon points="363.80,263.76 364.68,265.79 366.88,266.00 365.23,267.46 365.70,269.62 363.80,268.50 361.90,269.62 362.37,267.46 360.72,266.00 362.92,265.79" fill="#ef3d4f"/>
<circle cx="390.5" cy="251.4" r="3.0" fill="#1a1a1a"/>
<polygon points="390.50,248.16 391.38,250.19 393.58,250.40 391.93,251.86 392.40,254.02 390.50,252.90 388.60,254.02 389.07,251.86 387.42,250.40 389.62,250.19" fill="#ef3d4f"/>
<circle cx="409.8" cy="243.5" r="3.0" fill="#1a1a1a"/>
<polygon points="409.80,240.26 410.68,242.29 412.88,242.50 411.23,243.96 411.70,246.12 409.80,245.00 407.90,246.12 408.37,243.96 406.72,242.50 408.92,242.29" fill="#ef3d4f"/>
<circle cx="402.7" cy="272.3" r="3.0" fill="#1a1a1a"/>
<polygon points="402.70,269.06 403.58,271.09 405.78,271.30 404.13,272.76 404.60,274.92 402.70,273.80 400.80,274.92 401.27,272.76 399.62,271.30 401.82,271.09" fill="#ef3d4f"/>
<text x="379.00" y="179.40" font-size="8.5" font-weight="normal" fill="#222" text-anchor="start" textLength="27.20" lengthAdjust="spacingAndGlyphs" >P=0.04</text>
<text x="379.00" y="189.60" font-size="8.5" font-weight="normal" fill="#222" text-anchor="start" textLength="34.40" lengthAdjust="spacingAndGlyphs" >r = 0.369</text>
<text x="376.60" y="202.30" font-size="8" fill="#e8303f">*</text>
<text x="380.20" y="204.60" font-size="6.6" font-weight="bold" fill="#222" text-anchor="start" textLength="36.10" lengthAdjust="spacingAndGlyphs" >Birthweight</text>
<text x="378.70" y="212.60" font-size="6.6" font-weight="bold" fill="#222" textLength="48.80" lengthAdjust="spacingAndGlyphs">&lt;10<tspan font-size="4.5" dy="-2.5">th</tspan><tspan dy="2.5"> percentile</tspan></text>
<text transform="translate(461.0,159.9) scale(1,1.11)" font-size="12" font-weight="bold" fill="#111">e</text>
<text x="468.59999999999997" y="158.89999999999998" font-size="12" fill="#222">)</text>
<line x1="519.0" y1="335.1" x2="662.8" y2="335.1" stroke="#111" stroke-width="1.4"/>
<path d="M522.6 184.10 V335.8" fill="none" stroke="#111" stroke-width="1.4"/>
<text x="517.80" y="339.10" font-size="10.8" font-weight="bold" fill="#111" text-anchor="end" >0</text>
<line x1="519.0" y1="304.90" x2="522.6" y2="304.90" stroke="#111" stroke-width="1.3"/>
<text x="517.80" y="308.90" font-size="10.8" font-weight="bold" fill="#111" text-anchor="end" >1</text>
<line x1="519.0" y1="274.70" x2="522.6" y2="274.70" stroke="#111" stroke-width="1.3"/>
<text x="517.80" y="278.70" font-size="10.8" font-weight="bold" fill="#111" text-anchor="end" >2</text>
<line x1="519.0" y1="244.50" x2="522.6" y2="244.50" stroke="#111" stroke-width="1.3"/>
<text x="517.80" y="248.50" font-size="10.8" font-weight="bold" fill="#111" text-anchor="end" >3</text>
<line x1="519.0" y1="214.30" x2="522.6" y2="214.30" stroke="#111" stroke-width="1.3"/>
<text x="517.80" y="218.30" font-size="10.8" font-weight="bold" fill="#111" text-anchor="end" >4</text>
<line x1="519.0" y1="184.10" x2="522.6" y2="184.10" stroke="#111" stroke-width="1.3"/>
<text x="517.80" y="188.10" font-size="10.8" font-weight="bold" fill="#111" text-anchor="end" >5</text>
<line x1="522.60" y1="335.1" x2="522.60" y2="339.6" stroke="#111" stroke-width="1.3"/>
<text x="522.60" y="351.10" font-size="10.6" font-weight="bold" fill="#111" text-anchor="middle" >30</text>
<line x1="557.60" y1="335.1" x2="557.60" y2="339.6" stroke="#111" stroke-width="1.3"/>
<text x="557.60" y="351.10" font-size="10.6" font-weight="bold" fill="#111" text-anchor="middle" >40</text>
<line x1="592.60" y1="335.1" x2="592.60" y2="339.6" stroke="#111" stroke-width="1.3"/>
<text x="592.60" y="351.10" font-size="10.6" font-weight="bold" fill="#111" text-anchor="middle" >50</text>
<line x1="627.60" y1="335.1" x2="627.60" y2="339.6" stroke="#111" stroke-width="1.3"/>
<text x="627.60" y="351.10" font-size="10.6" font-weight="bold" fill="#111" text-anchor="middle" >60</text>
<line x1="662.60" y1="335.1" x2="662.60" y2="339.6" stroke="#111" stroke-width="1.3"/>
<text x="662.60" y="351.10" font-size="10.6" font-weight="bold" fill="#111" text-anchor="middle" >70</text>
<text x="592.80" y="367.90" font-size="10.9" font-weight="bold" fill="#111" text-anchor="middle" textLength="74.60" lengthAdjust="spacingAndGlyphs" >Mean diastolic</text>
<text x="594.40" y="381.70" font-size="10.9" font-weight="bold" fill="#111" text-anchor="middle" textLength="128.20" lengthAdjust="spacingAndGlyphs" >blood pressure (mm Hg)</text>
<text transform="translate(492.80,255.60) rotate(-90)" font-size="11.4" font-weight="bold" fill="#111" text-anchor="middle" textLength="169.60" lengthAdjust="spacingAndGlyphs">Placental DEPTOR expression</text>
<text transform="translate(506.50,256.20) rotate(-90)" font-size="11.4" font-weight="bold" fill="#111" text-anchor="middle" textLength="98.60" lengthAdjust="spacingAndGlyphs">(Relative density)</text>
<line x1="560" y1="328.2" x2="650.2" y2="252.5" stroke="#111" stroke-width="1.1"/>
<circle cx="603.2" cy="274.7" r="2.85" fill="#000"/>
<circle cx="590.8" cy="291.9" r="2.85" fill="#000"/>
<circle cx="599.9" cy="289.7" r="2.85" fill="#000"/>
<circle cx="600.5" cy="296.2" r="2.85" fill="#000"/>
<circle cx="610.3" cy="297.9" r="2.85" fill="#000"/>
<circle cx="615.4" cy="302" r="2.85" fill="#000"/>
<circle cx="620.6" cy="304" r="2.85" fill="#000"/>
<circle cx="602.5" cy="301.8" r="2.85" fill="#000"/>
<circle cx="601.2" cy="304.2" r="2.85" fill="#000"/>
<circle cx="607.7" cy="305.6" r="2.85" fill="#000"/>
<circle cx="606.4" cy="308" r="2.85" fill="#000"/>
<circle cx="610.3" cy="311.7" r="2.85" fill="#000"/>
<circle cx="592.8" cy="307.2" r="2.85" fill="#000"/>
<circle cx="596.7" cy="309.8" r="2.85" fill="#000"/>
<circle cx="598" cy="315" r="2.85" fill="#000"/>
<circle cx="598.6" cy="318.4" r="2.85" fill="#000"/>
<circle cx="601.8" cy="321.5" r="2.85" fill="#000"/>
<circle cx="598" cy="323.4" r="2.85" fill="#000"/>
<circle cx="560" cy="313.4" r="2.85" fill="#000"/>
<circle cx="615.7" cy="219.9" r="3.0" fill="#1a1a1a"/>
<polygon points="615.70,216.66 616.58,218.69 618.78,218.90 617.13,220.36 617.60,222.52 615.70,221.40 613.80,222.52 614.27,220.36 612.62,218.90 614.82,218.69" fill="#ef3d4f"/>
<circle cx="601.4" cy="237" r="3.0" fill="#1a1a1a"/>
<polygon points="601.40,233.76 602.28,235.79 604.48,236.00 602.83,237.46 603.30,239.62 601.40,238.50 599.50,239.62 599.97,237.46 598.32,236.00 600.52,235.79" fill="#ef3d4f"/>
<circle cx="603.7" cy="248.5" r="3.0" fill="#1a1a1a"/>
<polygon points="603.70,245.26 604.58,247.29 606.78,247.50 605.13,248.96 605.60,251.12 603.70,250.00 601.80,251.12 602.27,248.96 600.62,247.50 602.82,247.29" fill="#ef3d4f"/>
<circle cx="615.7" cy="257" r="3.0" fill="#1a1a1a"/>
<polygon points="615.70,253.76 616.58,255.79 618.78,256.00 617.13,257.46 617.60,259.62 615.70,258.50 613.80,259.62 614.27,257.46 612.62,256.00 614.82,255.79" fill="#ef3d4f"/>
<circle cx="598" cy="266.4" r="3.0" fill="#1a1a1a"/>
<polygon points="598.00,263.16 598.88,265.19 601.08,265.40 599.43,266.86 599.90,269.02 598.00,267.90 596.10,269.02 596.57,266.86 594.92,265.40 597.12,265.19" fill="#ef3d4f"/>
<circle cx="608.5" cy="272.1" r="3.0" fill="#1a1a1a"/>
<polygon points="608.50,268.86 609.38,270.89 611.58,271.10 609.93,272.56 610.40,274.72 608.50,273.60 606.60,274.72 607.07,272.56 605.42,271.10 607.62,270.89" fill="#ef3d4f"/>
<circle cx="645.2" cy="243.1" r="3.0" fill="#1a1a1a"/>
<polygon points="645.20,239.86 646.08,241.89 648.28,242.10 646.63,243.56 647.10,245.72 645.20,244.60 643.30,245.72 643.77,243.56 642.12,242.10 644.32,241.89" fill="#ef3d4f"/>
<circle cx="650.4" cy="250.8" r="3.0" fill="#1a1a1a"/>
<polygon points="650.40,247.56 651.28,249.59 653.48,249.80 651.83,251.26 652.30,253.42 650.40,252.30 648.50,253.42 648.97,251.26 647.32,249.80 649.52,249.59" fill="#ef3d4f"/>
<text x="634.80" y="184.70" font-size="8.5" font-weight="normal" fill="#222" text-anchor="start" textLength="32.20" lengthAdjust="spacingAndGlyphs" >P=0.009</text>
<text x="634.80" y="194.80" font-size="8.5" font-weight="normal" fill="#222" text-anchor="start" textLength="34.20" lengthAdjust="spacingAndGlyphs" >r = 0.472</text>
<text x="634.30" y="204.00" font-size="8" fill="#e8303f">*</text>
<text x="638.20" y="206.10" font-size="6.6" font-weight="bold" fill="#222" text-anchor="start" textLength="36.30" lengthAdjust="spacingAndGlyphs" >Birthweight</text>
<text x="636.80" y="214.70" font-size="6.6" font-weight="bold" fill="#222" textLength="47.70" lengthAdjust="spacingAndGlyphs">&lt;10<tspan font-size="4.5" dy="-2.5">th</tspan><tspan dy="2.5"> percentile</tspan></text>
</svg>
</body></html>
